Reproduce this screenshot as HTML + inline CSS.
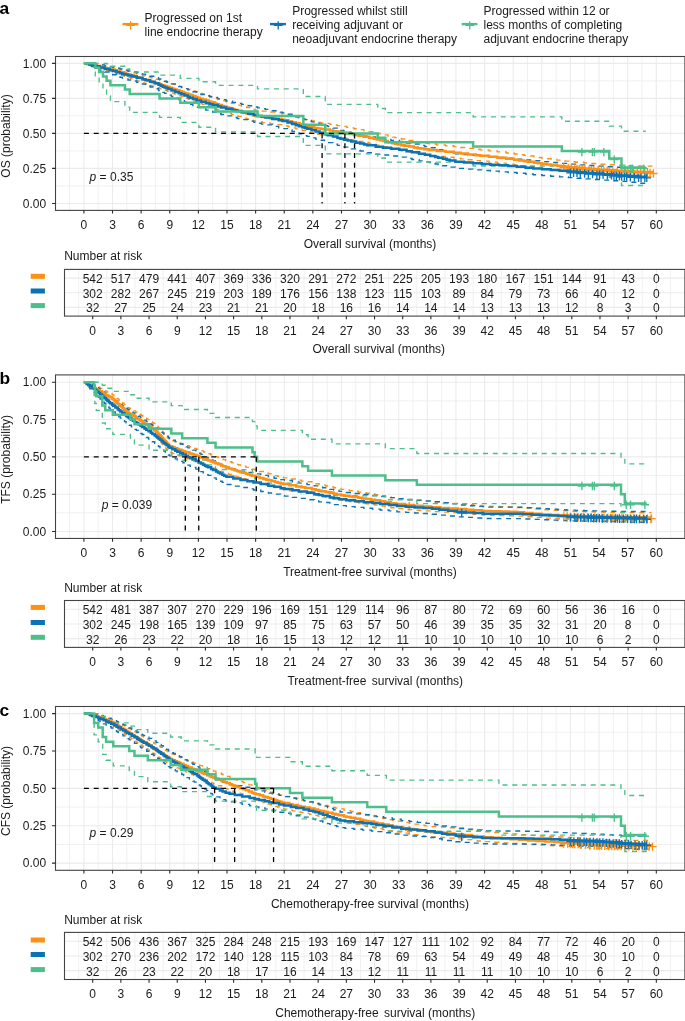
<!DOCTYPE html><html><head><meta charset="utf-8"><style>html,body{margin:0;padding:0;background:#fff;overflow:hidden;}svg{display:block;will-change:transform;}</style></head><body>
<svg width="685" height="1021" viewBox="0 0 685 1021" font-family='"Liberation Sans", sans-serif' fill="#1a1a1a">
<rect width="685" height="1021" fill="#fff"/>
<path d="M122.5 24.1H138.4" stroke="#FF9012" stroke-width="2.4" fill="none"/>
<path d="M130.6 21.2V29.5M126.3 25.4H134.9" stroke="#FF9012" stroke-width="1.3" fill="none"/>
<text x="144.6" y="21.6" font-size="12" text-anchor="start">Progressed on 1st</text>
<text x="144.6" y="35.8" font-size="12" text-anchor="start">line endocrine therapy</text>
<path d="M270 24.1H285.9" stroke="#0B72B5" stroke-width="2.4" fill="none"/>
<path d="M278.2 21.2V29.5M273.9 25.4H282.5" stroke="#0B72B5" stroke-width="1.3" fill="none"/>
<text x="292.2" y="14.9" font-size="12" text-anchor="start">Progressed whilst still</text>
<text x="292.2" y="29.1" font-size="12" text-anchor="start">receiving adjuvant or</text>
<text x="292.2" y="43.3" font-size="12" text-anchor="start">neoadjuvant endocrine therapy</text>
<path d="M461.7 24.1H477.4" stroke="#4DBF8A" stroke-width="2.4" fill="none"/>
<path d="M469.7 21.2V29.5M465.4 25.4H474" stroke="#4DBF8A" stroke-width="1.3" fill="none"/>
<text x="483.5" y="14.9" font-size="12" text-anchor="start">Progressed within 12 or</text>
<text x="483.5" y="29.1" font-size="12" text-anchor="start">less months of completing</text>
<text x="483.5" y="43.3" font-size="12" text-anchor="start">adjuvant endocrine therapy</text>
<text x="-0.5" y="13.7" font-size="17.4" text-anchor="start" font-weight="bold" fill="#000">a</text>
<path d="M69.59 56.5V210.4M98.21 56.5V210.4M126.83 56.5V210.4M155.45 56.5V210.4M184.07 56.5V210.4M212.69 56.5V210.4M241.31 56.5V210.4M269.93 56.5V210.4M298.55 56.5V210.4M327.17 56.5V210.4M355.79 56.5V210.4M384.41 56.5V210.4M413.03 56.5V210.4M441.65 56.5V210.4M470.27 56.5V210.4M498.89 56.5V210.4M527.51 56.5V210.4M556.13 56.5V210.4M584.75 56.5V210.4M613.37 56.5V210.4M641.99 56.5V210.4M670.61 56.5V210.4M55.5 185.94H684.9M55.5 150.91H684.9M55.5 115.89H684.9M55.5 80.86H684.9" stroke="#EEEEEE" stroke-width="0.9" fill="none"/>
<path d="M83.9 56.5V210.4M112.52 56.5V210.4M141.14 56.5V210.4M169.76 56.5V210.4M198.38 56.5V210.4M227 56.5V210.4M255.62 56.5V210.4M284.24 56.5V210.4M312.86 56.5V210.4M341.48 56.5V210.4M370.1 56.5V210.4M398.72 56.5V210.4M427.34 56.5V210.4M455.96 56.5V210.4M484.58 56.5V210.4M513.2 56.5V210.4M541.82 56.5V210.4M570.44 56.5V210.4M599.06 56.5V210.4M627.68 56.5V210.4M656.3 56.5V210.4M55.5 203.45H684.9M55.5 168.42H684.9M55.5 133.4H684.9M55.5 98.38H684.9M55.5 63.35H684.9" stroke="#EBEBEB" stroke-width="1.1" fill="none"/>
<path d="M83.9 63.35H87.14V63.35H89.81V63.5H94.01V64.06H96.68V64.45H100.5V65.05H103.93V65.61H106.61V66.05H110.42V66.7H112.71V67.12H115V67.72H116.91V68.23H118.82V68.74H121.11V69.36H124.16V70.2H126.07V70.73H127.97V71.26H130.65V72.01H134.08V72.98H136.75V73.74H139.04V74.39H142.48V75.37H144.38V75.9H147.82V76.87H150.11V77.52H152.02V78.06H153.92V78.6H156.21V79.25H159.65V80.23H161.56V80.78H164.23V81.54H167.28V82.42H169.57V83.08H171.86V83.84H173.39V84.35H174.91V84.86H176.82V85.51H179.49V86.41H181.78V87.18H183.69V87.83H185.98V88.6H188.27V89.38H190.18V90.03H192.85V90.94H195.52V91.86H197.43V92.51H200.1V93.38H202.77V94.23H205.82V95.19H208.87V96.16H211.16V96.89H214.6V97.99H216.51V98.6H218.8V99.33H221.85V100.3H223.76V100.92H226.43V101.77H228.34V102.34H231.39V103.21H234.82V104.19H237.88V105.07H241.31V106.06H243.6V106.71H246.65V107.59H249.71V108.47H252.76V109.35H255.43V110.13H262.3V111.11H269.93V112.17H275.27V112.92H281.76V113.82H284.81V114.32H288.25V115.2H291.68V116.08H295.88V117.16H299.69V118.14H302.37V118.82H305.42V119.61H308.85V120.5H310.76V120.99H314.2V121.76H317.63V122.34H321.06V122.92H324.12V123.43H329.84V124.4H333.28V124.98H337.09V125.63H341.29V126.34H346.63V127.34H349.68V127.92H353.88V128.71H358.46V129.58H363.8V130.59H369.15V131.6H373.73V132.63H376.78V133.35H380.21V134.16H383.27V134.88H387.84V135.96H392.42V137.05H395.09V137.68H397.77V138.31H401.2V138.99H404.63V139.62H409.21V140.46H413.79V141.3H417.61V141.99H420.28V142.48H424.48V143.25H429.06V143.97H436.69V144.81H445.47V145.77H453.86V146.69H460.73V147.5H467.98V148.36H475.61V149.28H480.19V149.83H488.97V150.89H497.36V151.9H506.14V152.96H514.15V153.95H519.11V154.7H524.08V155.44H527.89V156.01H534V156.93H537.81V157.5H541.63V158.07H546.59V158.72H551.17V159.32H556.89V160.07H561.09V160.62H564.91V161.12H569.49V161.72H575.59V162.29H583.99V163.01H590.09V163.53H598.87V164.26H607.65V164.76H616.42V165.25H625.2V165.7H633.98V165.97H642.75V166.13H651.53V165.95H653.44" stroke="#FF9012" stroke-width="1.35" stroke-dasharray="5 4.8" fill="none"/>
<path d="M83.9 63.35H87.14V64.88H89.81V65.74H94.01V66.98H96.68V67.74H100.5V68.78H103.93V69.69H106.61V70.39H110.42V71.38H112.71V71.99H115V72.86H116.91V73.58H118.82V74.3H121.11V75.15H124.16V76.28H126.07V76.98H127.97V77.67H130.65V78.64H134.08V79.89H136.75V80.85H139.04V81.67H142.48V82.88H144.38V83.53H147.82V84.71H150.11V85.49H152.02V86.15H153.92V86.79H156.21V87.57H159.65V88.74H161.56V89.38H164.23V90.28H167.28V91.31H169.57V92.08H171.86V92.95H173.39V93.54H174.91V94.13H176.82V94.87H179.49V95.9H181.78V96.78H183.69V97.51H185.98V98.38H188.27V99.26H190.18V99.98H192.85V101H195.52V102.02H197.43V102.74H200.1V103.7H202.77V104.63H205.82V105.69H208.87V106.75H211.16V107.54H214.6V108.73H216.51V109.39H218.8V110.18H221.85V111.23H223.76V111.89H226.43V112.81H228.34V113.41H231.39V114.34H234.82V115.39H237.88V116.32H241.31V117.36H243.6V118.06H246.65V118.98H249.71V119.91H252.76V120.83H255.43V121.64H262.3V122.67H269.93V123.78H275.27V124.55H281.76V125.49H284.81V126H288.25V126.91H291.68V127.81H295.88V128.92H299.69V129.93H302.37V130.63H305.42V131.43H308.85V132.33H310.76V132.83H314.2V133.61H317.63V134.2H321.06V134.79H324.12V135.31H329.84V136.29H333.28V136.87H337.09V137.52H341.29V138.24H346.63V139.24H349.68V139.82H353.88V140.61H358.46V141.47H363.8V142.48H369.15V143.48H373.73V144.5H376.78V145.21H380.21V146.01H383.27V146.72H387.84V147.78H392.42V148.84H395.09V149.46H397.77V150.08H401.2V150.74H404.63V151.35H409.21V152.16H413.79V152.98H417.61V153.65H420.28V154.12H424.48V154.87H429.06V155.55H436.69V156.36H445.47V157.28H453.86V158.16H460.73V158.93H467.98V159.75H475.61V160.62H480.19V161.14H488.97V162.14H497.36V163.09H506.14V164.09H514.15V165.02H519.11V165.72H524.08V166.41H527.89V166.94H534V167.79H537.81V168.32H541.63V168.85H546.59V169.45H551.17V170H556.89V170.68H561.09V171.18H564.91V171.64H569.49V172.18H575.59V172.7H583.99V173.37H590.09V173.86H598.87V174.58H607.65V175.1H616.42V175.62H625.2V176.18H633.98V176.59H642.75V176.98H651.53V177.6H653.44" stroke="#FF9012" stroke-width="1.35" stroke-dasharray="5 4.8" fill="none"/>
<path d="M83.9 63.35H89.43V63.35H94.78V63.98H99.74V64.85H104.7V65.79H109.66V66.78H112.71V67.42H116.53V68.29H119.96V69.09H122.25V69.64H124.54V70.19H127.97V70.97H131.79V71.75H136.75V72.77H142.48V74.05H145.53V74.93H150.11V76.24H154.69V77.57H158.5V78.95H160.79V79.83H162.7V80.56H164.61V81.29H166.52V82.03H168.42V82.77H171.48V83.91H175.29V85.3H178.73V86.56H181.4V87.54H184.45V88.67H187.89V89.94H189.79V90.65H192.85V91.79H196.66V93.21H200.86V94.49H205.82V95.76H209.64V96.74H212.69V97.52H217.65V98.8H221.09V99.69H226.05V100.98H232.53V102.41H237.11V103.4H241.69V104.39H248.18V105.79H253.9V107.03H257.72V107.83H261.53V108.61H265.35V109.38H272.22V110.77H278.71V112.09H282.52V112.87H287.48V114.24H292.06V115.69H295.88V116.9H298.93V117.87H302.37V118.96H304.66V119.69H306.95V120.43H311.52V121.89H315.72V123.14H319.54V124.25H324.5V125.68H327.93V126.68H332.89V128.12H337.47V129.45H340.53V130.35H343.96V131.23H347.78V132.16H351.21V133H356.17V134.22H359.99V135.15H364.19V136.18H367.24V136.93H375.63V138.36H382.88V139.32H390.9V140.37H399.29V141.51H406.54V142.95H411.89V144.02H419.14V145.46H424.86V146.61H430.2V147.78H435.16V148.94H438.22V149.66H442.79V150.74H446.61V151.64H449.66V152.36H455.39V153.72H464.16V154.55H472.94V155.29H481.72V156.03H490.49V156.77H499.27V157.52H508.05V158.27H516.83V159.08H525.6V159.98H533.23V160.76H542.01V161.67H550.79V162.49H559.56V163.31H568.34V164.13H577.12V164.84H585.89V165.5H594.67V166.14H603.45V166.73H612.23V167.25H621V167.68H629.78V167.92H638.56V167.95H646.76" stroke="#0B72B5" stroke-width="1.35" stroke-dasharray="5 4.8" fill="none"/>
<path d="M83.9 63.35H89.43V66.46H94.78V68.54H99.74V70.32H104.7V72.03H109.66V73.7H112.71V74.71H116.53V76.06H119.96V77.26H122.25V78.05H124.54V78.84H127.97V79.95H131.79V81.03H136.75V82.42H142.48V84.15H145.53V85.3H150.11V87.01H154.69V88.71H158.5V90.45H160.79V91.53H162.7V92.43H164.61V93.33H166.52V94.23H168.42V95.12H171.48V96.49H175.29V98.15H178.73V99.63H181.4V100.78H184.45V102.09H187.89V103.55H189.79V104.37H192.85V105.67H196.66V107.28H200.86V108.72H205.82V110.15H209.64V111.24H212.69V112.11H217.65V113.52H221.09V114.5H226.05V115.9H232.53V117.47H237.11V118.53H241.69V119.6H248.18V121.11H253.9V122.43H257.72V123.28H261.53V124.1H265.35V124.91H272.22V126.38H278.71V127.77H282.52V128.58H287.48V130.01H292.06V131.51H295.88V132.76H298.93V133.75H302.37V134.87H304.66V135.62H306.95V136.36H311.52V137.84H315.72V139.11H319.54V140.22H324.5V141.66H327.93V142.65H332.89V144.09H337.47V145.41H340.53V146.29H343.96V147.16H347.78V148.07H351.21V148.89H356.17V150.07H359.99V150.98H364.19V151.98H367.24V152.7H375.63V154.08H382.88V154.99H390.9V155.99H399.29V157.08H406.54V158.45H411.89V159.45H419.14V160.81H424.86V161.88H430.2V162.97H435.16V164.04H438.22V164.71H442.79V165.7H446.61V166.52H449.66V167.18H455.39V168.42H464.16V169.17H472.94V169.83H481.72V170.5H490.49V171.17H499.27V171.83H508.05V172.5H516.83V173.22H525.6V174.02H533.23V174.71H542.01V175.5H550.79V176.22H559.56V176.94H568.34V177.65H577.12V178.28H585.89V178.89H594.67V179.51H603.45V180.13H612.23V180.76H621V181.44H629.78V182.25H638.56V183.22H646.76" stroke="#0B72B5" stroke-width="1.35" stroke-dasharray="5 4.8" fill="none"/>
<path d="M83.9 63.35H95.35V63.35H99.16V63.35H102.98V63.35H106.61V63.71H110.42V66.23H124.92V69H129.69V71.97H159.55V75.11H180.25V78.38H198.86V81.79H215.55V85.31H257.53V88.93H303.32V96.48H325.26V104.39H377.73V108.48H385.36V112.66H473.13V116.92H561.85V121.28H609.27V126.18H621.48V131.23H645.81" stroke="#4DBF8A" stroke-width="1.35" stroke-dasharray="5 4.8" fill="none"/>
<path d="M83.9 63.35H95.35V75.92H99.16V83.35H102.98V89.87H106.61V95.91H110.42V101.61H124.92V107.07H129.69V112.33H159.55V117.43H180.25V122.37H198.86V127.2H215.55V131.9H257.53V136.5H303.32V145.39H325.26V153.91H377.73V158.04H385.36V162.07H473.13V166.01H561.85V169.86H609.27V177.21H621.48V185.48H645.81" stroke="#4DBF8A" stroke-width="1.35" stroke-dasharray="5 4.8" fill="none"/>
<path d="M83.9 63.35H87.14V64.05H89.81V64.62H94.01V65.53H96.68V66.1H100.5V66.93H103.93V67.67H106.61V68.24H110.42V69.06H112.71V69.58H115V70.32H116.91V70.93H118.82V71.55H121.11V72.29H124.16V73.27H126.07V73.89H127.97V74.51H130.65V75.37H134.08V76.48H136.75V77.34H139.04V78.08H142.48V79.18H144.38V79.78H147.82V80.85H150.11V81.57H152.02V82.17H153.92V82.77H156.21V83.48H159.65V84.56H161.56V85.16H164.23V85.99H167.28V86.95H169.57V87.67H171.86V88.49H173.39V89.04H174.91V89.59H176.82V90.28H179.49V91.25H181.78V92.08H183.69V92.77H185.98V93.6H188.27V94.43H190.18V95.12H192.85V96.09H195.52V97.06H197.43V97.75H200.1V98.67H202.77V99.56H205.82V100.58H208.87V101.59H211.16V102.36H214.6V103.5H216.51V104.14H218.8V104.9H221.85V105.92H223.76V106.56H226.43V107.45H228.34V108.04H231.39V108.94H234.82V109.96H237.88V110.87H241.31V111.88H243.6V112.56H246.65V113.47H249.71V114.37H252.76V115.28H255.43V116.07H262.3V117.08H269.93V118.17H275.27V118.93H281.76V119.86H284.81V120.36H288.25V121.26H291.68V122.16H295.88V123.25H299.69V124.25H302.37V124.95H305.42V125.75H308.85V126.64H310.76V127.14H314.2V127.92H317.63V128.5H321.06V129.09H324.12V129.61H329.84V130.59H333.28V131.17H337.09V131.82H341.29V132.54H346.63V133.55H349.68V134.12H353.88V134.92H358.46V135.78H363.8V136.79H369.15V137.81H373.73V138.84H376.78V139.56H380.21V140.36H383.27V141.08H387.84V142.16H392.42V143.23H395.09V143.86H397.77V144.49H401.2V145.16H404.63V145.78H409.21V146.61H413.79V147.44H417.61V148.13H420.28V148.61H424.48V149.37H429.06V150.07H436.69V150.9H445.47V151.85H453.86V152.75H460.73V153.54H467.98V154.39H475.61V155.28H480.19V155.82H488.97V156.85H497.36V157.84H506.14V158.87H514.15V159.84H519.11V160.56H524.08V161.28H527.89V161.83H534V162.72H537.81V163.27H541.63V163.83H546.59V164.45H551.17V165.03H556.89V165.75H561.09V166.27H564.91V166.75H569.49V167.32H575.59V167.87H583.99V168.57H590.09V169.08H598.87V169.81H607.65V170.33H616.42V170.85H625.2V171.36H633.98V171.72H642.75V172.02H651.53V172.32H653.44" stroke="#FF9012" stroke-width="2.5" fill="none"/>
<path d="M563.76 163.27V171.67M559.56 167.47H567.96M568.25 163.75V172.15M564.05 167.95H572.45M571.39 164.32V172.72M567.19 168.52H575.59M574.73 164.32V172.72M570.53 168.52H578.93M577.02 164.87V173.27M572.82 169.07H581.22M579.31 164.87V173.27M575.11 169.07H583.51M582.27 164.87V173.27M578.07 169.07H586.47M584.94 165.57V173.97M580.74 169.77H589.14M589.04 165.57V173.97M584.84 169.77H593.24M591.52 166.08V174.48M587.32 170.28H595.72M593.72 166.08V174.48M589.52 170.28H597.92M598.11 166.08V174.48M593.91 170.28H602.31M601.44 166.81V175.21M597.24 171.01H605.64M603.83 166.81V175.21M599.63 171.01H608.03M607.26 166.81V175.21M603.06 171.01H611.46M609.46 167.33V175.73M605.26 171.53H613.66M612.8 167.33V175.73M608.6 171.53H617M617.19 167.85V176.25M612.99 172.05H621.39M621.38 167.85V176.25M617.18 172.05H625.58M625.1 167.85V176.25M620.9 172.05H629.3M627.87 168.36V176.76M623.67 172.56H632.07M630.83 168.36V176.76M626.63 172.56H635.03M633.31 168.36V176.76M629.11 172.56H637.51M637.32 168.72V177.12M633.12 172.92H641.52M640.65 168.72V177.12M636.45 172.92H644.85M644.57 169.02V177.42M640.37 173.22H648.77M647.52 169.02V177.42M643.32 173.22H651.72M650.1 169.02V177.42M645.9 173.22H654.3M653.44 169.32V177.72M649.24 173.52H657.64" stroke="#FF9012" stroke-width="1.35" fill="none"/>
<path d="M83.9 63.35H89.43V64.84H94.78V66.28H99.74V67.61H104.7V68.95H109.66V70.28H112.71V71.11H116.53V72.23H119.96V73.24H122.25V73.91H124.54V74.59H127.97V75.54H131.79V76.47H136.75V77.69H142.48V79.21H145.53V80.22H150.11V81.75H154.69V83.27H158.5V84.84H160.79V85.83H162.7V86.65H164.61V87.47H166.52V88.29H168.42V89.11H171.48V90.38H175.29V91.91H178.73V93.29H181.4V94.36H184.45V95.59H187.89V96.96H189.79V97.73H192.85V98.96H196.66V100.49H200.86V101.85H205.82V103.21H209.64V104.25H212.69V105.09H217.65V106.44H221.09V107.38H226.05V108.73H232.53V110.24H237.11V111.28H241.69V112.31H248.18V113.78H253.9V115.07H257.72V115.9H261.53V116.7H265.35V117.5H272.22V118.94H278.71V120.3H282.52V121.1H287.48V122.51H292.06V123.99H295.88V125.23H298.93V126.22H302.37V127.33H304.66V128.07H306.95V128.82H311.52V130.3H315.72V131.57H319.54V132.68H324.5V134.13H327.93V135.13H332.89V136.58H337.47V137.92H340.53V138.81H343.96V139.69H347.78V140.62H351.21V141.45H356.17V142.66H359.99V143.59H364.19V144.61H367.24V145.35H375.63V146.76H382.88V147.7H390.9V148.74H399.29V149.86H406.54V151.27H411.89V152.31H419.14V153.73H424.86V154.84H430.2V155.98H435.16V157.1H438.22V157.8H442.79V158.84H446.61V159.71H449.66V160.41H455.39V161.71H464.16V162.5H472.94V163.21H481.72V163.92H490.49V164.63H499.27V165.34H508.05V166.05H516.83V166.82H525.6V167.68H533.23V168.42H542.01V169.28H550.79V170.05H559.56V170.83H568.34V171.6H577.12V172.28H585.89V172.92H594.67V173.57H603.45V174.19H612.23V174.79H621V175.39H629.78V176H638.56V176.65H646.76" stroke="#0B72B5" stroke-width="2.5" fill="none"/>
<path d="M570.44 168.6V177M566.24 172.8H574.64M573.59 168.6V177M569.39 172.8H577.79M577.02 168.6V177M572.82 172.8H581.22M580.27 169.28V177.68M576.07 173.48H584.47M584.56 169.28V177.68M580.36 173.48H588.76M588.38 169.92V178.32M584.18 174.12H592.58M592.57 169.92V178.32M588.37 174.12H596.77M596.87 170.57V178.97M592.67 174.77H601.07M599.63 170.57V178.97M595.43 174.77H603.83M603.07 170.57V178.97M598.87 174.77H607.27M607.36 171.19V179.59M603.16 175.39H611.56M611.46 171.19V179.59M607.26 175.39H615.66M613.94 171.79V180.19M609.74 175.99H618.14M616.33 171.79V180.19M612.13 175.99H620.53M619.48 171.79V180.19M615.28 175.99H623.68M621.67 172.39V180.79M617.47 176.59H625.87M624.34 172.39V180.79M620.14 176.59H628.54M626.63 172.39V180.79M622.43 176.59H630.83M630.35 173V181.4M626.15 177.2H634.55M634.36 173V181.4M630.16 177.2H638.56M638.56 173.65V182.05M634.36 177.85H642.76M641.04 173.65V182.05M636.84 177.85H645.24M644.85 173.65V182.05M640.65 177.85H649.05M646.76 173.65V182.05M642.56 177.85H650.96" stroke="#0B72B5" stroke-width="1.35" fill="none"/>
<path d="M83.9 63.35H95.35V67.73H99.16V72.11H102.98V76.48H106.61V80.86H110.42V85.24H124.92V89.62H129.69V94H159.55V98.38H180.25V102.75H198.86V107.13H215.55V111.51H257.53V115.89H303.32V124.64H325.26V133.4H377.73V137.78H385.36V142.16H473.13V146.53H561.85V150.91H609.27V158.42H621.48V167.42H645.81" stroke="#4DBF8A" stroke-width="2.5" fill="none"/>
<path d="M581.89 147.91V156.31M577.69 152.11H586.09M592.38 147.91V156.31M588.18 152.11H596.58M594.29 147.91V156.31M590.09 152.11H598.49M603.83 147.91V156.31M599.63 152.11H608.03M614.32 155.42V163.82M610.12 159.62H618.52M624.82 164.42V172.82M620.62 168.62H629.02M630.54 164.42V172.82M626.34 168.62H634.74M632.45 164.42V172.82M628.25 168.62H636.65M643.9 164.42V172.82M639.7 168.62H648.1" stroke="#4DBF8A" stroke-width="1.35" fill="none"/>
<path d="M83.9 133.4H354.55M322.11 133.4V203.45M344.91 133.4V203.45M354.55 133.4V203.45" stroke="#000" stroke-width="1.3" stroke-dasharray="5 4.8" fill="none"/>
<rect x="55.5" y="56.5" width="629.4" height="153.9" fill="none" stroke="#444444" stroke-width="1.1"/>
<text x="46.2" y="207.65" font-size="12" text-anchor="end">0.00</text>
<text x="46.2" y="172.62" font-size="12" text-anchor="end">0.25</text>
<text x="46.2" y="137.6" font-size="12" text-anchor="end">0.50</text>
<text x="46.2" y="102.58" font-size="12" text-anchor="end">0.75</text>
<text x="46.2" y="67.55" font-size="12" text-anchor="end">1.00</text>
<text x="83.9" y="228.7" font-size="12" text-anchor="middle">0</text>
<text x="112.52" y="228.7" font-size="12" text-anchor="middle">3</text>
<text x="141.14" y="228.7" font-size="12" text-anchor="middle">6</text>
<text x="169.76" y="228.7" font-size="12" text-anchor="middle">9</text>
<text x="198.38" y="228.7" font-size="12" text-anchor="middle">12</text>
<text x="227" y="228.7" font-size="12" text-anchor="middle">15</text>
<text x="255.62" y="228.7" font-size="12" text-anchor="middle">18</text>
<text x="284.24" y="228.7" font-size="12" text-anchor="middle">21</text>
<text x="312.86" y="228.7" font-size="12" text-anchor="middle">24</text>
<text x="341.48" y="228.7" font-size="12" text-anchor="middle">27</text>
<text x="370.1" y="228.7" font-size="12" text-anchor="middle">30</text>
<text x="398.72" y="228.7" font-size="12" text-anchor="middle">33</text>
<text x="427.34" y="228.7" font-size="12" text-anchor="middle">36</text>
<text x="455.96" y="228.7" font-size="12" text-anchor="middle">39</text>
<text x="484.58" y="228.7" font-size="12" text-anchor="middle">42</text>
<text x="513.2" y="228.7" font-size="12" text-anchor="middle">45</text>
<text x="541.82" y="228.7" font-size="12" text-anchor="middle">48</text>
<text x="570.44" y="228.7" font-size="12" text-anchor="middle">51</text>
<text x="599.06" y="228.7" font-size="12" text-anchor="middle">54</text>
<text x="627.68" y="228.7" font-size="12" text-anchor="middle">57</text>
<text x="656.3" y="228.7" font-size="12" text-anchor="middle">60</text>
<path d="M52 203.45H55.5M52 168.42H55.5M52 133.4H55.5M52 98.38H55.5M52 63.35H55.5M83.9 210.4V213.6M112.52 210.4V213.6M141.14 210.4V213.6M169.76 210.4V213.6M198.38 210.4V213.6M227 210.4V213.6M255.62 210.4V213.6M284.24 210.4V213.6M312.86 210.4V213.6M341.48 210.4V213.6M370.1 210.4V213.6M398.72 210.4V213.6M427.34 210.4V213.6M455.96 210.4V213.6M484.58 210.4V213.6M513.2 210.4V213.6M541.82 210.4V213.6M570.44 210.4V213.6M599.06 210.4V213.6M627.68 210.4V213.6M656.3 210.4V213.6" stroke="#2a2a2a" stroke-width="1.1" fill="none"/>
<text x="370" y="247.8" font-size="12" text-anchor="middle">Overall survival (months)</text>
<text transform="translate(10.3 136) rotate(-90)" font-size="12" text-anchor="middle">OS (probability)</text>
<text x="89.6" y="180.8" font-size="12"><tspan font-style="italic">p</tspan> = 0.35</text>
<text x="64.2" y="259.9" font-size="12" text-anchor="start">Number at risk</text>
<path d="M78.61 269.4V316.1M106.79 269.4V316.1M134.97 269.4V316.1M163.16 269.4V316.1M191.34 269.4V316.1M219.52 269.4V316.1M247.7 269.4V316.1M275.88 269.4V316.1M304.06 269.4V316.1M332.25 269.4V316.1M360.43 269.4V316.1M388.61 269.4V316.1M416.79 269.4V316.1M444.97 269.4V316.1M473.16 269.4V316.1M501.34 269.4V316.1M529.52 269.4V316.1M557.7 269.4V316.1M585.88 269.4V316.1M614.07 269.4V316.1M642.25 269.4V316.1M670.43 269.4V316.1" stroke="#EEEEEE" stroke-width="0.9" fill="none"/>
<path d="M92.7 269.4V316.1M120.88 269.4V316.1M149.06 269.4V316.1M177.25 269.4V316.1M205.43 269.4V316.1M233.61 269.4V316.1M261.79 269.4V316.1M289.97 269.4V316.1M318.16 269.4V316.1M346.34 269.4V316.1M374.52 269.4V316.1M402.7 269.4V316.1M430.88 269.4V316.1M459.07 269.4V316.1M487.25 269.4V316.1M515.43 269.4V316.1M543.61 269.4V316.1M571.79 269.4V316.1M599.98 269.4V316.1M628.16 269.4V316.1M656.34 269.4V316.1M64.5 278.16H684.9M64.5 292.75H684.9M64.5 307.34H684.9" stroke="#EBEBEB" stroke-width="1.1" fill="none"/>
<rect x="64.5" y="269.4" width="620.4" height="46.7" fill="none" stroke="#444444" stroke-width="1.1"/>
<text x="92.7" y="283.06" font-size="12" text-anchor="middle">542</text>
<text x="120.88" y="283.06" font-size="12" text-anchor="middle">517</text>
<text x="149.06" y="283.06" font-size="12" text-anchor="middle">479</text>
<text x="177.25" y="283.06" font-size="12" text-anchor="middle">441</text>
<text x="205.43" y="283.06" font-size="12" text-anchor="middle">407</text>
<text x="233.61" y="283.06" font-size="12" text-anchor="middle">369</text>
<text x="261.79" y="283.06" font-size="12" text-anchor="middle">336</text>
<text x="289.97" y="283.06" font-size="12" text-anchor="middle">320</text>
<text x="318.16" y="283.06" font-size="12" text-anchor="middle">291</text>
<text x="346.34" y="283.06" font-size="12" text-anchor="middle">272</text>
<text x="374.52" y="283.06" font-size="12" text-anchor="middle">251</text>
<text x="402.7" y="283.06" font-size="12" text-anchor="middle">225</text>
<text x="430.88" y="283.06" font-size="12" text-anchor="middle">205</text>
<text x="459.07" y="283.06" font-size="12" text-anchor="middle">193</text>
<text x="487.25" y="283.06" font-size="12" text-anchor="middle">180</text>
<text x="515.43" y="283.06" font-size="12" text-anchor="middle">167</text>
<text x="543.61" y="283.06" font-size="12" text-anchor="middle">151</text>
<text x="571.79" y="283.06" font-size="12" text-anchor="middle">144</text>
<text x="599.98" y="283.06" font-size="12" text-anchor="middle">91</text>
<text x="628.16" y="283.06" font-size="12" text-anchor="middle">43</text>
<text x="656.34" y="283.06" font-size="12" text-anchor="middle">0</text>
<text x="92.7" y="297.65" font-size="12" text-anchor="middle">302</text>
<text x="120.88" y="297.65" font-size="12" text-anchor="middle">282</text>
<text x="149.06" y="297.65" font-size="12" text-anchor="middle">267</text>
<text x="177.25" y="297.65" font-size="12" text-anchor="middle">245</text>
<text x="205.43" y="297.65" font-size="12" text-anchor="middle">219</text>
<text x="233.61" y="297.65" font-size="12" text-anchor="middle">203</text>
<text x="261.79" y="297.65" font-size="12" text-anchor="middle">189</text>
<text x="289.97" y="297.65" font-size="12" text-anchor="middle">176</text>
<text x="318.16" y="297.65" font-size="12" text-anchor="middle">156</text>
<text x="346.34" y="297.65" font-size="12" text-anchor="middle">138</text>
<text x="374.52" y="297.65" font-size="12" text-anchor="middle">123</text>
<text x="402.7" y="297.65" font-size="12" text-anchor="middle">115</text>
<text x="430.88" y="297.65" font-size="12" text-anchor="middle">103</text>
<text x="459.07" y="297.65" font-size="12" text-anchor="middle">89</text>
<text x="487.25" y="297.65" font-size="12" text-anchor="middle">84</text>
<text x="515.43" y="297.65" font-size="12" text-anchor="middle">79</text>
<text x="543.61" y="297.65" font-size="12" text-anchor="middle">73</text>
<text x="571.79" y="297.65" font-size="12" text-anchor="middle">66</text>
<text x="599.98" y="297.65" font-size="12" text-anchor="middle">40</text>
<text x="628.16" y="297.65" font-size="12" text-anchor="middle">12</text>
<text x="656.34" y="297.65" font-size="12" text-anchor="middle">0</text>
<text x="92.7" y="312.24" font-size="12" text-anchor="middle">32</text>
<text x="120.88" y="312.24" font-size="12" text-anchor="middle">27</text>
<text x="149.06" y="312.24" font-size="12" text-anchor="middle">25</text>
<text x="177.25" y="312.24" font-size="12" text-anchor="middle">24</text>
<text x="205.43" y="312.24" font-size="12" text-anchor="middle">23</text>
<text x="233.61" y="312.24" font-size="12" text-anchor="middle">21</text>
<text x="261.79" y="312.24" font-size="12" text-anchor="middle">21</text>
<text x="289.97" y="312.24" font-size="12" text-anchor="middle">20</text>
<text x="318.16" y="312.24" font-size="12" text-anchor="middle">18</text>
<text x="346.34" y="312.24" font-size="12" text-anchor="middle">16</text>
<text x="374.52" y="312.24" font-size="12" text-anchor="middle">16</text>
<text x="402.7" y="312.24" font-size="12" text-anchor="middle">14</text>
<text x="430.88" y="312.24" font-size="12" text-anchor="middle">14</text>
<text x="459.07" y="312.24" font-size="12" text-anchor="middle">14</text>
<text x="487.25" y="312.24" font-size="12" text-anchor="middle">13</text>
<text x="515.43" y="312.24" font-size="12" text-anchor="middle">13</text>
<text x="543.61" y="312.24" font-size="12" text-anchor="middle">13</text>
<text x="571.79" y="312.24" font-size="12" text-anchor="middle">12</text>
<text x="599.98" y="312.24" font-size="12" text-anchor="middle">8</text>
<text x="628.16" y="312.24" font-size="12" text-anchor="middle">3</text>
<text x="656.34" y="312.24" font-size="12" text-anchor="middle">0</text>
<rect x="30.7" y="273.8" width="14.2" height="5" fill="#FF9012"/>
<rect x="30.7" y="288.5" width="14.2" height="5" fill="#0B72B5"/>
<rect x="30.7" y="303.1" width="14.2" height="5" fill="#4DBF8A"/>
<text x="92.7" y="334.5" font-size="12" text-anchor="middle">0</text>
<text x="120.88" y="334.5" font-size="12" text-anchor="middle">3</text>
<text x="149.06" y="334.5" font-size="12" text-anchor="middle">6</text>
<text x="177.25" y="334.5" font-size="12" text-anchor="middle">9</text>
<text x="205.43" y="334.5" font-size="12" text-anchor="middle">12</text>
<text x="233.61" y="334.5" font-size="12" text-anchor="middle">15</text>
<text x="261.79" y="334.5" font-size="12" text-anchor="middle">18</text>
<text x="289.97" y="334.5" font-size="12" text-anchor="middle">21</text>
<text x="318.16" y="334.5" font-size="12" text-anchor="middle">24</text>
<text x="346.34" y="334.5" font-size="12" text-anchor="middle">27</text>
<text x="374.52" y="334.5" font-size="12" text-anchor="middle">30</text>
<text x="402.7" y="334.5" font-size="12" text-anchor="middle">33</text>
<text x="430.88" y="334.5" font-size="12" text-anchor="middle">36</text>
<text x="459.07" y="334.5" font-size="12" text-anchor="middle">39</text>
<text x="487.25" y="334.5" font-size="12" text-anchor="middle">42</text>
<text x="515.43" y="334.5" font-size="12" text-anchor="middle">45</text>
<text x="543.61" y="334.5" font-size="12" text-anchor="middle">48</text>
<text x="571.79" y="334.5" font-size="12" text-anchor="middle">51</text>
<text x="599.98" y="334.5" font-size="12" text-anchor="middle">54</text>
<text x="628.16" y="334.5" font-size="12" text-anchor="middle">57</text>
<text x="656.34" y="334.5" font-size="12" text-anchor="middle">60</text>
<path d="M92.7 316.1V319.3M120.88 316.1V319.3M149.06 316.1V319.3M177.25 316.1V319.3M205.43 316.1V319.3M233.61 316.1V319.3M261.79 316.1V319.3M289.97 316.1V319.3M318.16 316.1V319.3M346.34 316.1V319.3M374.52 316.1V319.3M402.7 316.1V319.3M430.88 316.1V319.3M459.07 316.1V319.3M487.25 316.1V319.3M515.43 316.1V319.3M543.61 316.1V319.3M571.79 316.1V319.3M599.98 316.1V319.3M628.16 316.1V319.3M656.34 316.1V319.3" stroke="#2a2a2a" stroke-width="1.1" fill="none"/>
<text x="312.4" y="353" font-size="12" xml:space="preserve">Overall survival (months)</text>
<text x="-0.5" y="383.6" font-size="17.4" text-anchor="start" font-weight="bold" fill="#000">b</text>
<path d="M69.59 374.9V538.45M98.21 374.9V538.45M126.83 374.9V538.45M155.45 374.9V538.45M184.07 374.9V538.45M212.69 374.9V538.45M241.31 374.9V538.45M269.93 374.9V538.45M298.55 374.9V538.45M327.17 374.9V538.45M355.79 374.9V538.45M384.41 374.9V538.45M413.03 374.9V538.45M441.65 374.9V538.45M470.27 374.9V538.45M498.89 374.9V538.45M527.51 374.9V538.45M556.13 374.9V538.45M584.75 374.9V538.45M613.37 374.9V538.45M641.99 374.9V538.45M670.61 374.9V538.45M55.5 512.84H684.9M55.5 475.51H684.9M55.5 438.19H684.9M55.5 400.86H684.9" stroke="#EEEEEE" stroke-width="0.9" fill="none"/>
<path d="M83.9 374.9V538.45M112.52 374.9V538.45M141.14 374.9V538.45M169.76 374.9V538.45M198.38 374.9V538.45M227 374.9V538.45M255.62 374.9V538.45M284.24 374.9V538.45M312.86 374.9V538.45M341.48 374.9V538.45M370.1 374.9V538.45M398.72 374.9V538.45M427.34 374.9V538.45M455.96 374.9V538.45M484.58 374.9V538.45M513.2 374.9V538.45M541.82 374.9V538.45M570.44 374.9V538.45M599.06 374.9V538.45M627.68 374.9V538.45M656.3 374.9V538.45M55.5 531.5H684.9M55.5 494.18H684.9M55.5 456.85H684.9M55.5 419.52H684.9M55.5 382.2H684.9" stroke="#EBEBEB" stroke-width="1.1" fill="none"/>
<path d="M83.9 382.2H86.76V382.53H88.67V383.25H90.96V384.21H92.1V384.72H94.39V385.76H95.92V386.47H97.45V387.2H99.74V388.3H101.64V389.24H102.79V389.8H104.32V390.57H105.84V391.33H107.37V392.1H108.51V392.69H110.04V393.47H111.95V394.45H112.71V394.9H113.86V395.85H115V396.81H115.76V397.45H116.91V398.41H118.05V399.38H119.2V400.35H119.96V401H121.49V402.3H122.63V403.28H124.16V404.59H124.92V405.25H125.69V405.91H126.45V406.57H127.97V407.57H129.12V408.24H130.26V408.91H131.79V409.81H133.7V410.93H135.61V412.05H136.75V412.73H137.9V413.4H139.8V414.53H141.33V415.45H142.86V416.43H144V417.16H145.15V417.9H146.67V418.89H147.82V419.63H148.96V420.37H150.87V421.6H152.4V422.59H153.92V423.59H155.07V424.33H156.21V425.39H156.98V426.2H158.12V427.41H158.88V428.23H159.65V429.04H160.79V430.26H161.94V431.49H162.7V432.3H163.46V433.12H164.23V433.94H164.99V434.76H165.75V435.59H166.52V436.41H167.28V437.23H168.04V438.06H168.81V438.88H169.57V439.71H172.24V440.78H174.53V441.58H177.2V442.51H179.11V443.18H181.4V443.98H182.93V444.52H184.83V445.18H186.36V445.72H189.41V446.79H192.08V447.73H193.99V448.4H196.28V449.2H199.33V450.32H200.86V450.92H203.53V451.96H205.82V452.86H208.11V453.77H210.78V454.82H213.07V455.72H215.36V456.62H218.03V457.68H221.09V458.89H222.99V459.64H225.66V460.7H228.72V461.78H231.77V462.76H234.44V463.62H236.73V464.35H238.64V464.97H240.55V465.58H242.45V466.19H245.89V467.3H248.18V468.04H250.09V468.65H251.99V469.27H255.43V470.38H259.63V471.5H263.44V472.51H266.11V473.22H268.79V473.93H271.46V474.64H274.89V475.56H277.56V476.27H280.61V477.09H283.29V477.8H289.39V478.97H296.26V480.19H301.22V481.08H305.04V481.76H311.91V482.99H315.72V483.79H319.16V484.55H321.83V485.14H325.64V485.98H329.46V486.83H333.66V487.76H336.71V488.43H340.91V489.37H344.34V489.93H349.3V490.68H353.12V491.26H358.46V492.07H362.28V492.65H366.09V493.23H371.05V494.02H374.87V494.72H380.21V495.71H385.17V496.63H390.9V497.69H396.24V498.68H405.02V499.72H413.79V500.53H422.57V501.35H431.35V502.08H440.12V502.71H448.9V503.35H457.68V504.01H466.45V504.74H473.32V505.32H482.1V506.05H490.88V506.45H499.65V506.73H508.43V507H517.21V507.53H524.08V508.18H532.85V509.02H541.63V509.87H550.41V510.32H559.18V510.77H567.96V511.22H576.74V511.53H585.51V511.77H594.29V512.01H603.07V512.22H611.84V512.39H620.62V512.55H629.4V512.67H638.17V512.73H646.95V512.68H651.53" stroke="#FF9012" stroke-width="1.35" stroke-dasharray="5 4.8" fill="none"/>
<path d="M83.9 382.2H86.76V385.17H88.67V386.65H90.96V388.33H92.1V389.15H94.39V390.75H95.92V391.79H97.45V392.83H99.74V394.36H101.64V395.63H102.79V396.38H104.32V397.38H105.84V398.38H107.37V399.37H108.51V400.1H110.04V401.08H111.95V402.31H112.71V402.87H113.86V404.03H115V405.2H115.76V405.97H116.91V407.13H118.05V408.28H119.2V409.43H119.96V410.19H121.49V411.71H122.63V412.85H124.16V414.37H124.92V415.12H125.69V415.88H126.45V416.63H127.97V417.76H129.12V418.52H130.26V419.28H131.79V420.29H133.7V421.55H135.61V422.8H136.75V423.55H137.9V424.31H139.8V425.56H141.33V426.57H142.86V427.65H144V428.46H145.15V429.27H146.67V430.35H147.82V431.15H148.96V431.96H150.87V433.3H152.4V434.37H153.92V435.44H155.07V436.24H156.21V437.38H156.98V438.24H158.12V439.54H158.88V440.4H159.65V441.26H160.79V442.55H161.94V443.84H162.7V444.69H163.46V445.55H164.23V446.4H164.99V447.26H165.75V448.11H166.52V448.96H167.28V449.81H168.04V450.66H168.81V451.51H169.57V452.35H172.24V453.45H174.53V454.26H177.2V455.21H179.11V455.89H181.4V456.7H182.93V457.24H184.83V457.91H186.36V458.45H189.41V459.53H192.08V460.48H193.99V461.15H196.28V461.96H199.33V463.07H200.86V463.67H203.53V464.71H205.82V465.61H208.11V466.5H210.78V467.55H213.07V468.44H215.36V469.33H218.03V470.37H221.09V471.55H222.99V472.29H225.66V473.33H228.72V474.38H231.77V475.33H234.44V476.16H236.73V476.88H238.64V477.47H240.55V478.06H242.45V478.65H245.89V479.72H248.18V480.43H250.09V481.02H251.99V481.61H255.43V482.67H259.63V483.74H263.44V484.7H266.11V485.37H268.79V486.05H271.46V486.72H274.89V487.58H277.56V488.25H280.61V489.01H283.29V489.68H289.39V490.78H296.26V491.92H301.22V492.74H305.04V493.38H311.91V494.51H315.72V495.25H319.16V495.95H321.83V496.49H325.64V497.26H329.46V498.03H333.66V498.88H336.71V499.5H340.91V500.34H344.34V500.85H349.3V501.53H353.12V502.05H358.46V502.78H362.28V503.3H366.09V503.82H371.05V504.52H374.87V505.14H380.21V506.02H385.17V506.82H390.9V507.76H396.24V508.63H405.02V509.53H413.79V510.24H422.57V510.94H431.35V511.57H440.12V512.12H448.9V512.66H457.68V513.22H466.45V513.84H473.32V514.33H482.1V514.95H490.88V515.28H499.65V515.51H508.43V515.73H517.21V516.17H524.08V516.72H532.85V517.42H541.63V518.11H550.41V518.48H559.18V518.84H567.96V519.2H576.74V519.45H585.51V519.66H594.29V519.87H603.07V520.07H611.84V520.25H620.62V520.44H629.4V520.63H638.17V520.82H646.95V521.07H651.53" stroke="#FF9012" stroke-width="1.35" stroke-dasharray="5 4.8" fill="none"/>
<path d="M83.9 382.2H86.76V382.2H88.29V382.73H89.81V383.36H92.1V384.38H93.63V385.14H95.16V386.15H96.3V386.93H97.45V387.72H98.59V388.53H100.12V389.62H101.64V390.73H103.17V391.85H104.32V392.71H105.84V393.85H107.37V395.01H108.89V396.17H110.04V397.06H111.95V398.53H113.09V399.37H115.38V400.96H117.67V402.56H118.82V403.36H120.34V404.44H122.25V405.79H124.54V407.42H126.07V408.51H127.59V409.53H129.12V410.48H131.41V411.92H132.94V412.87H134.84V414.07H136.37V415.03H138.28V416.24H140.57V417.69H142.09V418.66H144.38V420.12H146.29V421.34H148.58V422.81H150.87V424.28H152.4V425.27H154.69V426.75H156.21V427.85H157.36V428.77H158.5V429.69H160.03V430.92H161.56V432.15H162.7V433.08H163.85V434H165.37V435.24H166.52V436.17H168.42V437.73H169.57V438.67H172.24V440.05H175.29V441.56H177.2V442.51H180.25V444.03H182.93V445.36H185.98V446.88H187.89V447.84H190.18V448.99H192.47V450.14H195.9V451.86H198.57V453.22H200.86V454.41H203.15V455.61H205.06V456.6H206.58V457.4H208.11V458.2H211.16V459.81H213.07V460.81H216.12V462.42H218.03V463.43H219.94V464.44H222.23V465.65H224.14V466.66H226.43V467.88H233.3V469.52H240.55V471.06H247.42V472.52H253.52V473.82H260.77V475.37H268.4V477.01H274.13V478.25H280.61V479.65H284.43V480.47H292.44V481.92H298.93V483.09H306.95V484.55H314.2V485.92H318.77V486.93H322.59V487.78H329.84V489.38H333.66V490.23H339V491.42H346.25V492.5H355.03V493.48H363.8V494.46H372.58V495.49H380.21V496.49H388.99V497.65H397V498.71H405.78V499.47H414.56V500.13H423.33V500.8H432.11V501.74H439.36V502.72H448.14V503.9H456.91V505.04H465.69V505.72H474.47V506.4H483.24V507.09H492.02V507.18H514.15V507.21H522.93V507.73H531.71V508.25H540.48V508.76H549.26V509.24H558.04V509.71H566.81V510.19H575.59V510.51H584.37V510.71H593.15V510.91H601.92V511.09H610.7V511.26H619.48V511.4H628.25V511.49H637.03V511.5H645.81V511.37H646.76" stroke="#0B72B5" stroke-width="1.35" stroke-dasharray="5 4.8" fill="none"/>
<path d="M83.9 382.2H86.76V385.97H88.29V387.4H89.81V388.77H92.1V390.73H93.63V392.06H95.16V393.73H96.3V394.96H97.45V396.18H98.59V397.38H100.12V398.97H101.64V400.54H103.17V402.1H104.32V403.26H105.84V404.79H107.37V406.32H108.89V407.83H110.04V408.96H111.95V410.84H113.09V411.89H115.38V413.87H117.67V415.83H118.82V416.8H120.34V418.1H122.25V419.71H124.54V421.64H126.07V422.92H127.59V424.12H129.12V425.22H131.41V426.87H132.94V427.97H134.84V429.34H136.37V430.44H138.28V431.8H140.57V433.43H142.09V434.52H144.38V436.15H146.29V437.49H148.58V439.11H150.87V440.72H152.4V441.79H154.69V443.39H156.21V444.58H157.36V445.56H158.5V446.54H160.03V447.84H161.56V449.14H162.7V450.11H163.85V451.09H165.37V452.38H166.52V453.34H168.42V454.95H169.57V455.91H172.24V457.33H175.29V458.87H177.2V459.83H180.25V461.36H182.93V462.7H185.98V464.22H187.89V465.18H190.18V466.32H192.47V467.45H195.9V469.16H198.57V470.48H200.86V471.65H203.15V472.81H205.06V473.78H206.58V474.55H208.11V475.33H211.16V476.87H213.07V477.83H216.12V479.37H218.03V480.33H219.94V481.28H222.23V482.43H224.14V483.38H226.43V484.52H233.3V486.05H240.55V487.49H247.42V488.84H253.52V490.04H260.77V491.46H268.4V492.96H274.13V494.08H280.61V495.34H284.43V496.08H292.44V497.37H298.93V498.42H306.95V499.71H314.2V500.92H318.77V501.8H322.59V502.54H329.84V503.93H333.66V504.66H339V505.68H346.25V506.61H355.03V507.44H363.8V508.26H372.58V509.13H380.21V509.96H388.99V510.93H397V511.8H405.78V512.42H414.56V512.96H423.33V513.5H432.11V514.26H439.36V515.05H448.14V515.99H456.91V516.89H465.69V517.42H474.47V517.95H483.24V518.47H492.02V518.55H514.15V518.57H522.93V518.96H531.71V519.36H540.48V519.75H549.26V520.11H558.04V520.45H566.81V520.8H575.59V521.03H584.37V521.19H593.15V521.35H601.92V521.52H610.7V521.69H619.48V521.88H628.25V522.08H637.03V522.26H645.81V522.49H646.76" stroke="#0B72B5" stroke-width="1.35" stroke-dasharray="5 4.8" fill="none"/>
<path d="M83.9 382.2H94.11V382.2H94.87V382.2H96.3V382.2H102.31V385.27H105.27V388.23H112.81V391.39H130.36V394.73H134.46V398.22H149.06V401.85H171.29V405.6H182.16V409.46H207.44V413.43H215.55V417.5H252.47V421.67H254.67V425.94H257.15V430.3H302.37V434.75H308.09V439.29H331.94V443.93H385.36V448.66H416.85V453.5H621V458.16H624.82V463.94H646.76" stroke="#4DBF8A" stroke-width="1.35" stroke-dasharray="5 4.8" fill="none"/>
<path d="M83.9 382.2H94.11V395.59H94.87V403.51H96.3V410.47H102.31V422.98H105.27V428.79H112.81V434.4H130.36V439.83H134.46V445.1H149.06V450.24H171.29V455.25H182.16V460.15H207.44V464.94H215.55V469.63H252.47V474.22H254.67V478.71H257.15V483.1H302.37V487.4H308.09V491.6H331.94V495.7H385.36V499.7H416.85V503.59H621V512.5H624.82V519.9H646.76" stroke="#4DBF8A" stroke-width="1.35" stroke-dasharray="5 4.8" fill="none"/>
<path d="M83.9 382.2H86.76V383.86H88.67V384.96H90.96V386.29H92.1V386.95H94.39V388.27H95.92V389.16H97.45V390.04H99.74V391.37H101.64V392.47H102.79V393.13H104.32V394.02H105.84V394.9H107.37V395.78H108.51V396.45H110.04V397.33H111.95V398.43H112.71V398.94H113.86V400.01H115V401.07H115.76V401.78H116.91V402.84H118.05V403.91H119.2V404.97H119.96V405.68H121.49V407.1H122.63V408.16H124.16V409.58H124.92V410.29H125.69V411H126.45V411.71H127.97V412.78H129.12V413.49H130.26V414.21H131.79V415.17H133.7V416.36H135.61V417.55H136.75V418.27H137.9V418.99H139.8V420.18H141.33V421.15H142.86V422.18H144V422.96H145.15V423.74H146.67V424.77H147.82V425.55H148.96V426.32H150.87V427.62H152.4V428.65H153.92V429.69H155.07V430.46H156.21V431.56H156.98V432.4H158.12V433.66H158.88V434.5H159.65V435.34H160.79V436.6H161.94V437.86H162.7V438.7H163.46V439.54H164.23V440.39H164.99V441.23H165.75V442.07H166.52V442.91H167.28V443.75H168.04V444.59H168.81V445.43H169.57V446.27H172.24V447.35H174.53V448.16H177.2V449.11H179.11V449.78H181.4V450.59H182.93V451.13H184.83V451.8H186.36V452.34H189.41V453.42H192.08V454.37H193.99V455.04H196.28V455.85H199.33V456.97H200.86V457.57H203.53V458.62H205.82V459.52H208.11V460.42H210.78V461.47H213.07V462.37H215.36V463.27H218.03V464.32H221.09V465.52H222.99V466.28H225.66V467.33H228.72V468.4H231.77V469.36H234.44V470.21H236.73V470.94H238.64V471.54H240.55V472.15H242.45V472.75H245.89V473.84H248.18V474.57H250.09V475.17H251.99V475.78H255.43V476.87H259.63V477.97H263.44V478.96H266.11V479.65H268.79V480.35H271.46V481.04H274.89V481.93H277.56V482.63H280.61V483.42H283.29V484.11H289.39V485.25H296.26V486.44H301.22V487.3H305.04V487.95H311.91V489.14H315.72V489.91H319.16V490.64H321.83V491.21H325.64V492.02H329.46V492.83H333.66V493.73H336.71V494.38H340.91V495.27H344.34V495.8H349.3V496.52H353.12V497.07H358.46V497.85H362.28V498.4H366.09V498.95H371.05V499.7H374.87V500.37H380.21V501.3H385.17V502.17H390.9V503.17H396.24V504.1H405.02V505.08H413.79V505.84H422.57V506.6H431.35V507.29H440.12V507.88H448.9V508.47H457.68V509.08H466.45V509.76H473.32V510.29H482.1V510.97H490.88V511.35H499.65V511.6H508.43V511.84H517.21V512.33H524.08V512.94H532.85V513.71H541.63V514.48H550.41V514.89H559.18V515.3H567.96V515.71H576.74V515.99H585.51V516.22H594.29V516.45H603.07V516.65H611.84V516.84H620.62V517.02H629.4V517.2H638.17V517.34H646.95V517.49H651.53" stroke="#FF9012" stroke-width="2.5" fill="none"/>
<path d="M409.21 502.08V510.48M405.01 506.28H413.41M563.76 512.3V520.7M559.56 516.5H567.96M567.2 512.3V520.7M563 516.5H571.4M570.82 512.71V521.11M566.62 516.91H575.02M574.35 512.71V521.11M570.15 516.91H578.55M578.07 512.99V521.39M573.87 517.19H582.27M581.41 512.99V521.39M577.21 517.19H585.61M583.51 512.99V521.39M579.31 517.19H587.71M587.52 513.22V521.62M583.32 517.42H591.72M591.33 513.22V521.62M587.13 517.42H595.53M594.67 513.45V521.85M590.47 517.65H598.87M598.01 513.45V521.85M593.81 517.65H602.21M601.73 513.45V521.85M597.53 517.65H605.93M603.93 513.65V522.05M599.73 517.85H608.13M607.84 513.65V522.05M603.64 517.85H612.04M610.51 513.65V522.05M606.31 517.85H614.71M612.8 513.84V522.24M608.6 518.04H617M615.56 513.84V522.24M611.36 518.04H619.76M619.38 513.84V522.24M615.18 518.04H623.58M621.96 514.02V522.42M617.76 518.22H626.16M625.77 514.02V522.42M621.57 518.22H629.97M630.26 514.2V522.6M626.06 518.4H634.46M633.5 514.2V522.6M629.3 518.4H637.7M636.55 514.2V522.6M632.35 518.4H640.75M639.8 514.34V522.74M635.6 518.54H644M643.52 514.34V522.74M639.32 518.54H647.72M647.43 514.49V522.89M643.23 518.69H651.63M650.96 514.49V522.89M646.76 518.69H655.16M651.53 514.49V522.89M647.33 518.69H655.73" stroke="#FF9012" stroke-width="1.35" fill="none"/>
<path d="M83.9 382.2H86.76V384.08H88.29V385.08H89.81V386.09H92.1V387.59H93.63V388.64H95.16V389.99H96.3V391H97.45V392.01H98.59V393.03H100.12V394.38H101.64V395.73H103.17V397.07H104.32V398.09H105.84V399.44H107.37V400.79H108.89V402.14H110.04V403.15H111.95V404.84H113.09V405.79H115.38V407.58H117.67V409.37H118.82V410.27H120.34V411.46H122.25V412.96H124.54V414.75H126.07V415.94H127.59V417.06H129.12V418.09H131.41V419.64H132.94V420.68H134.84V421.97H136.37V423.01H138.28V424.3H140.57V425.86H142.09V426.89H144.38V428.44H146.29V429.74H148.58V431.29H150.87V432.84H152.4V433.88H154.69V435.43H156.21V436.59H157.36V437.54H158.5V438.5H160.03V439.77H161.56V441.04H162.7V442H163.85V442.96H165.37V444.23H166.52V445.18H168.42V446.78H169.57V447.73H172.24V449.14H175.29V450.68H177.2V451.63H180.25V453.17H182.93V454.51H185.98V456.05H187.89V457.01H190.18V458.16H192.47V459.31H195.9V461.04H198.57V462.39H200.86V463.57H203.15V464.76H205.06V465.75H206.58V466.54H208.11V467.33H211.16V468.92H213.07V469.91H216.12V471.49H218.03V472.48H219.94V473.47H222.23V474.66H224.14V475.64H226.43V476.83H233.3V478.43H240.55V479.92H247.42V481.34H253.52V482.6H260.77V484.09H268.4V485.67H274.13V486.86H280.61V488.2H284.43V488.98H292.44V490.36H298.93V491.48H306.95V492.87H314.2V494.17H318.77V495.12H322.59V495.92H329.84V497.43H333.66V498.22H339V499.33H346.25V500.34H355.03V501.25H363.8V502.16H372.58V503.12H380.21V504.04H388.99V505.11H397V506.08H405.78V506.78H414.56V507.39H423.33V507.99H432.11V508.85H439.36V509.74H448.14V510.81H456.91V511.83H465.69V512.45H474.47V513.06H483.24V513.67H492.02V513.75H514.15V513.78H522.93V514.24H531.71V514.7H540.48V515.15H549.26V515.57H558.04V515.99H566.81V516.4H575.59V516.68H584.37V516.86H593.15V517.04H601.92V517.23H610.7V517.41H619.48V517.59H628.25V517.77H637.03V517.9H645.81V518.03H646.76" stroke="#0B72B5" stroke-width="2.5" fill="none"/>
<path d="M461.68 508.83V517.23M457.48 513.03H465.88M570.44 513.4V521.8M566.24 517.6H574.64M574.83 513.4V521.8M570.63 517.6H579.03M577.21 513.68V522.08M573.01 517.88H581.41M580.55 513.68V522.08M576.35 517.88H584.75M584.18 513.68V522.08M579.98 517.88H588.38M588.28 513.86V522.26M584.08 518.06H592.48M590.95 513.86V522.26M586.75 518.06H595.15M593.62 514.04V522.44M589.42 518.24H597.82M596.39 514.04V522.44M592.19 518.24H600.59M599.44 514.04V522.44M595.24 518.24H603.64M602.59 514.23V522.63M598.39 518.43H606.79M606.98 514.23V522.63M602.78 518.43H611.18M611.08 514.41V522.81M606.88 518.61H615.28M615.28 514.41V522.81M611.08 518.61H619.48M617.38 514.41V522.81M613.18 518.61H621.58M619.57 514.59V522.99M615.37 518.79H623.77M623.39 514.59V522.99M619.19 518.79H627.59M627.58 514.59V522.99M623.38 518.79H631.78M630.83 514.77V523.17M626.63 518.97H635.03M634.36 514.77V523.17M630.16 518.97H638.56M636.46 514.77V523.17M632.26 518.97H640.66M639.41 514.9V523.3M635.21 519.1H643.61M643.8 514.9V523.3M639.6 519.1H648M646.76 515.03V523.43M642.56 519.23H650.96" stroke="#0B72B5" stroke-width="1.35" fill="none"/>
<path d="M83.9 382.2H94.11V386.87H94.87V391.53H96.3V396.2H102.31V405.53H105.27V410.19H112.81V414.86H130.36V419.52H134.46V424.19H149.06V428.86H171.29V433.52H182.16V438.19H207.44V442.85H215.55V447.52H252.47V452.18H254.67V456.85H257.15V461.52H302.37V466.18H308.09V470.85H331.94V475.51H385.36V480.18H416.85V484.84H621V494.18H624.82V503.51H646.76" stroke="#4DBF8A" stroke-width="2.5" fill="none"/>
<path d="M581.89 481.84V490.24M577.69 486.04H586.09M592.38 481.84V490.24M588.18 486.04H596.58M594.29 481.84V490.24M590.09 486.04H598.49M614.32 481.84V490.24M610.12 486.04H618.52M626.25 500.51V508.91M622.05 504.71H630.45M630.54 500.51V508.91M626.34 504.71H634.74M644.85 500.51V508.91M640.65 504.71H649.05" stroke="#4DBF8A" stroke-width="1.35" fill="none"/>
<path d="M83.9 456.85H256.29M185.31 456.85V531.5M198.76 456.85V531.5M256.29 456.85V531.5" stroke="#000" stroke-width="1.3" stroke-dasharray="5 4.8" fill="none"/>
<rect x="55.5" y="374.9" width="629.4" height="163.55" fill="none" stroke="#444444" stroke-width="1.1"/>
<text x="46.2" y="535.7" font-size="12" text-anchor="end">0.00</text>
<text x="46.2" y="498.38" font-size="12" text-anchor="end">0.25</text>
<text x="46.2" y="461.05" font-size="12" text-anchor="end">0.50</text>
<text x="46.2" y="423.72" font-size="12" text-anchor="end">0.75</text>
<text x="46.2" y="386.4" font-size="12" text-anchor="end">1.00</text>
<text x="83.9" y="556.75" font-size="12" text-anchor="middle">0</text>
<text x="112.52" y="556.75" font-size="12" text-anchor="middle">3</text>
<text x="141.14" y="556.75" font-size="12" text-anchor="middle">6</text>
<text x="169.76" y="556.75" font-size="12" text-anchor="middle">9</text>
<text x="198.38" y="556.75" font-size="12" text-anchor="middle">12</text>
<text x="227" y="556.75" font-size="12" text-anchor="middle">15</text>
<text x="255.62" y="556.75" font-size="12" text-anchor="middle">18</text>
<text x="284.24" y="556.75" font-size="12" text-anchor="middle">21</text>
<text x="312.86" y="556.75" font-size="12" text-anchor="middle">24</text>
<text x="341.48" y="556.75" font-size="12" text-anchor="middle">27</text>
<text x="370.1" y="556.75" font-size="12" text-anchor="middle">30</text>
<text x="398.72" y="556.75" font-size="12" text-anchor="middle">33</text>
<text x="427.34" y="556.75" font-size="12" text-anchor="middle">36</text>
<text x="455.96" y="556.75" font-size="12" text-anchor="middle">39</text>
<text x="484.58" y="556.75" font-size="12" text-anchor="middle">42</text>
<text x="513.2" y="556.75" font-size="12" text-anchor="middle">45</text>
<text x="541.82" y="556.75" font-size="12" text-anchor="middle">48</text>
<text x="570.44" y="556.75" font-size="12" text-anchor="middle">51</text>
<text x="599.06" y="556.75" font-size="12" text-anchor="middle">54</text>
<text x="627.68" y="556.75" font-size="12" text-anchor="middle">57</text>
<text x="656.3" y="556.75" font-size="12" text-anchor="middle">60</text>
<path d="M52 531.5H55.5M52 494.18H55.5M52 456.85H55.5M52 419.52H55.5M52 382.2H55.5M83.9 538.45V541.65M112.52 538.45V541.65M141.14 538.45V541.65M169.76 538.45V541.65M198.38 538.45V541.65M227 538.45V541.65M255.62 538.45V541.65M284.24 538.45V541.65M312.86 538.45V541.65M341.48 538.45V541.65M370.1 538.45V541.65M398.72 538.45V541.65M427.34 538.45V541.65M455.96 538.45V541.65M484.58 538.45V541.65M513.2 538.45V541.65M541.82 538.45V541.65M570.44 538.45V541.65M599.06 538.45V541.65M627.68 538.45V541.65M656.3 538.45V541.65" stroke="#2a2a2a" stroke-width="1.1" fill="none"/>
<text x="370" y="575.85" font-size="12" text-anchor="middle">Treatment-free survival (months)</text>
<text transform="translate(10.3 459.45) rotate(-90)" font-size="12" text-anchor="middle">TFS (probability)</text>
<text x="101.7" y="508.7" font-size="12"><tspan font-style="italic">p</tspan> = 0.039</text>
<text x="64.2" y="591.5" font-size="12" text-anchor="start">Number at risk</text>
<path d="M78.61 600.5V647.4M106.79 600.5V647.4M134.97 600.5V647.4M163.16 600.5V647.4M191.34 600.5V647.4M219.52 600.5V647.4M247.7 600.5V647.4M275.88 600.5V647.4M304.06 600.5V647.4M332.25 600.5V647.4M360.43 600.5V647.4M388.61 600.5V647.4M416.79 600.5V647.4M444.97 600.5V647.4M473.16 600.5V647.4M501.34 600.5V647.4M529.52 600.5V647.4M557.7 600.5V647.4M585.88 600.5V647.4M614.07 600.5V647.4M642.25 600.5V647.4M670.43 600.5V647.4" stroke="#EEEEEE" stroke-width="0.9" fill="none"/>
<path d="M92.7 600.5V647.4M120.88 600.5V647.4M149.06 600.5V647.4M177.25 600.5V647.4M205.43 600.5V647.4M233.61 600.5V647.4M261.79 600.5V647.4M289.97 600.5V647.4M318.16 600.5V647.4M346.34 600.5V647.4M374.52 600.5V647.4M402.7 600.5V647.4M430.88 600.5V647.4M459.07 600.5V647.4M487.25 600.5V647.4M515.43 600.5V647.4M543.61 600.5V647.4M571.79 600.5V647.4M599.98 600.5V647.4M628.16 600.5V647.4M656.34 600.5V647.4M64.5 609.29H684.9M64.5 623.95H684.9M64.5 638.61H684.9" stroke="#EBEBEB" stroke-width="1.1" fill="none"/>
<rect x="64.5" y="600.5" width="620.4" height="46.9" fill="none" stroke="#444444" stroke-width="1.1"/>
<text x="92.7" y="614.19" font-size="12" text-anchor="middle">542</text>
<text x="120.88" y="614.19" font-size="12" text-anchor="middle">481</text>
<text x="149.06" y="614.19" font-size="12" text-anchor="middle">387</text>
<text x="177.25" y="614.19" font-size="12" text-anchor="middle">307</text>
<text x="205.43" y="614.19" font-size="12" text-anchor="middle">270</text>
<text x="233.61" y="614.19" font-size="12" text-anchor="middle">229</text>
<text x="261.79" y="614.19" font-size="12" text-anchor="middle">196</text>
<text x="289.97" y="614.19" font-size="12" text-anchor="middle">169</text>
<text x="318.16" y="614.19" font-size="12" text-anchor="middle">151</text>
<text x="346.34" y="614.19" font-size="12" text-anchor="middle">129</text>
<text x="374.52" y="614.19" font-size="12" text-anchor="middle">114</text>
<text x="402.7" y="614.19" font-size="12" text-anchor="middle">96</text>
<text x="430.88" y="614.19" font-size="12" text-anchor="middle">87</text>
<text x="459.07" y="614.19" font-size="12" text-anchor="middle">80</text>
<text x="487.25" y="614.19" font-size="12" text-anchor="middle">72</text>
<text x="515.43" y="614.19" font-size="12" text-anchor="middle">69</text>
<text x="543.61" y="614.19" font-size="12" text-anchor="middle">60</text>
<text x="571.79" y="614.19" font-size="12" text-anchor="middle">56</text>
<text x="599.98" y="614.19" font-size="12" text-anchor="middle">36</text>
<text x="628.16" y="614.19" font-size="12" text-anchor="middle">16</text>
<text x="656.34" y="614.19" font-size="12" text-anchor="middle">0</text>
<text x="92.7" y="628.85" font-size="12" text-anchor="middle">302</text>
<text x="120.88" y="628.85" font-size="12" text-anchor="middle">245</text>
<text x="149.06" y="628.85" font-size="12" text-anchor="middle">198</text>
<text x="177.25" y="628.85" font-size="12" text-anchor="middle">165</text>
<text x="205.43" y="628.85" font-size="12" text-anchor="middle">139</text>
<text x="233.61" y="628.85" font-size="12" text-anchor="middle">109</text>
<text x="261.79" y="628.85" font-size="12" text-anchor="middle">97</text>
<text x="289.97" y="628.85" font-size="12" text-anchor="middle">85</text>
<text x="318.16" y="628.85" font-size="12" text-anchor="middle">75</text>
<text x="346.34" y="628.85" font-size="12" text-anchor="middle">63</text>
<text x="374.52" y="628.85" font-size="12" text-anchor="middle">57</text>
<text x="402.7" y="628.85" font-size="12" text-anchor="middle">50</text>
<text x="430.88" y="628.85" font-size="12" text-anchor="middle">46</text>
<text x="459.07" y="628.85" font-size="12" text-anchor="middle">39</text>
<text x="487.25" y="628.85" font-size="12" text-anchor="middle">35</text>
<text x="515.43" y="628.85" font-size="12" text-anchor="middle">35</text>
<text x="543.61" y="628.85" font-size="12" text-anchor="middle">32</text>
<text x="571.79" y="628.85" font-size="12" text-anchor="middle">31</text>
<text x="599.98" y="628.85" font-size="12" text-anchor="middle">20</text>
<text x="628.16" y="628.85" font-size="12" text-anchor="middle">8</text>
<text x="656.34" y="628.85" font-size="12" text-anchor="middle">0</text>
<text x="92.7" y="643.51" font-size="12" text-anchor="middle">32</text>
<text x="120.88" y="643.51" font-size="12" text-anchor="middle">26</text>
<text x="149.06" y="643.51" font-size="12" text-anchor="middle">23</text>
<text x="177.25" y="643.51" font-size="12" text-anchor="middle">22</text>
<text x="205.43" y="643.51" font-size="12" text-anchor="middle">20</text>
<text x="233.61" y="643.51" font-size="12" text-anchor="middle">18</text>
<text x="261.79" y="643.51" font-size="12" text-anchor="middle">16</text>
<text x="289.97" y="643.51" font-size="12" text-anchor="middle">15</text>
<text x="318.16" y="643.51" font-size="12" text-anchor="middle">13</text>
<text x="346.34" y="643.51" font-size="12" text-anchor="middle">12</text>
<text x="374.52" y="643.51" font-size="12" text-anchor="middle">12</text>
<text x="402.7" y="643.51" font-size="12" text-anchor="middle">11</text>
<text x="430.88" y="643.51" font-size="12" text-anchor="middle">10</text>
<text x="459.07" y="643.51" font-size="12" text-anchor="middle">10</text>
<text x="487.25" y="643.51" font-size="12" text-anchor="middle">10</text>
<text x="515.43" y="643.51" font-size="12" text-anchor="middle">10</text>
<text x="543.61" y="643.51" font-size="12" text-anchor="middle">10</text>
<text x="571.79" y="643.51" font-size="12" text-anchor="middle">10</text>
<text x="599.98" y="643.51" font-size="12" text-anchor="middle">6</text>
<text x="628.16" y="643.51" font-size="12" text-anchor="middle">2</text>
<text x="656.34" y="643.51" font-size="12" text-anchor="middle">0</text>
<rect x="30.7" y="604.9" width="14.2" height="5" fill="#FF9012"/>
<rect x="30.7" y="620" width="14.2" height="5" fill="#0B72B5"/>
<rect x="30.7" y="634.8" width="14.2" height="5" fill="#4DBF8A"/>
<text x="92.7" y="665.8" font-size="12" text-anchor="middle">0</text>
<text x="120.88" y="665.8" font-size="12" text-anchor="middle">3</text>
<text x="149.06" y="665.8" font-size="12" text-anchor="middle">6</text>
<text x="177.25" y="665.8" font-size="12" text-anchor="middle">9</text>
<text x="205.43" y="665.8" font-size="12" text-anchor="middle">12</text>
<text x="233.61" y="665.8" font-size="12" text-anchor="middle">15</text>
<text x="261.79" y="665.8" font-size="12" text-anchor="middle">18</text>
<text x="289.97" y="665.8" font-size="12" text-anchor="middle">21</text>
<text x="318.16" y="665.8" font-size="12" text-anchor="middle">24</text>
<text x="346.34" y="665.8" font-size="12" text-anchor="middle">27</text>
<text x="374.52" y="665.8" font-size="12" text-anchor="middle">30</text>
<text x="402.7" y="665.8" font-size="12" text-anchor="middle">33</text>
<text x="430.88" y="665.8" font-size="12" text-anchor="middle">36</text>
<text x="459.07" y="665.8" font-size="12" text-anchor="middle">39</text>
<text x="487.25" y="665.8" font-size="12" text-anchor="middle">42</text>
<text x="515.43" y="665.8" font-size="12" text-anchor="middle">45</text>
<text x="543.61" y="665.8" font-size="12" text-anchor="middle">48</text>
<text x="571.79" y="665.8" font-size="12" text-anchor="middle">51</text>
<text x="599.98" y="665.8" font-size="12" text-anchor="middle">54</text>
<text x="628.16" y="665.8" font-size="12" text-anchor="middle">57</text>
<text x="656.34" y="665.8" font-size="12" text-anchor="middle">60</text>
<path d="M92.7 647.4V650.6M120.88 647.4V650.6M149.06 647.4V650.6M177.25 647.4V650.6M205.43 647.4V650.6M233.61 647.4V650.6M261.79 647.4V650.6M289.97 647.4V650.6M318.16 647.4V650.6M346.34 647.4V650.6M374.52 647.4V650.6M402.7 647.4V650.6M430.88 647.4V650.6M459.07 647.4V650.6M487.25 647.4V650.6M515.43 647.4V650.6M543.61 647.4V650.6M571.79 647.4V650.6M599.98 647.4V650.6M628.16 647.4V650.6M656.34 647.4V650.6" stroke="#2a2a2a" stroke-width="1.1" fill="none"/>
<text x="375.3" y="684.6" font-size="12" text-anchor="middle">Treatment-free<tspan dx="2.0"> survival (months)</tspan></text>
<text x="-0.5" y="715.6" font-size="17.4" text-anchor="start" font-weight="bold" fill="#000">c</text>
<path d="M69.59 706.5V870.3M98.21 706.5V870.3M126.83 706.5V870.3M155.45 706.5V870.3M184.07 706.5V870.3M212.69 706.5V870.3M241.31 706.5V870.3M269.93 706.5V870.3M298.55 706.5V870.3M327.17 706.5V870.3M355.79 706.5V870.3M384.41 706.5V870.3M413.03 706.5V870.3M441.65 706.5V870.3M470.27 706.5V870.3M498.89 706.5V870.3M527.51 706.5V870.3M556.13 706.5V870.3M584.75 706.5V870.3M613.37 706.5V870.3M641.99 706.5V870.3M670.61 706.5V870.3M55.5 844.41H684.9M55.5 807.04H684.9M55.5 769.66H684.9M55.5 732.29H684.9" stroke="#EEEEEE" stroke-width="0.9" fill="none"/>
<path d="M83.9 706.5V870.3M112.52 706.5V870.3M141.14 706.5V870.3M169.76 706.5V870.3M198.38 706.5V870.3M227 706.5V870.3M255.62 706.5V870.3M284.24 706.5V870.3M312.86 706.5V870.3M341.48 706.5V870.3M370.1 706.5V870.3M398.72 706.5V870.3M427.34 706.5V870.3M455.96 706.5V870.3M484.58 706.5V870.3M513.2 706.5V870.3M541.82 706.5V870.3M570.44 706.5V870.3M599.06 706.5V870.3M627.68 706.5V870.3M656.3 706.5V870.3M55.5 863.1H684.9M55.5 825.73H684.9M55.5 788.35H684.9M55.5 750.98H684.9M55.5 713.6H684.9" stroke="#EBEBEB" stroke-width="1.1" fill="none"/>
<path d="M83.9 713.6H90.96V713.61H95.54V714.34H97.45V714.85H98.97V715.29H100.5V715.73H102.79V716.42H105.46V717.25H108.51V718.22H111.18V719.09H113.47V720.03H115.38V721.04H116.91V721.87H118.43V722.7H119.58V723.32H121.49V724.37H122.63V725.01H124.54V726.07H126.07V726.92H127.21V727.56H128.36V728.21H129.5V728.86H131.03V729.72H132.55V730.59H133.7V731.25H134.84V731.9H136.37V732.78H137.9V733.65H139.42V734.54H140.57V735.2H142.09V736.1H143.24V736.78H144.38V737.46H145.91V738.37H147.82V739.52H149.34V740.44H151.25V741.58H152.78V742.51H153.92V743.2H155.07V743.89H156.98V745.05H158.5V745.98H159.65V746.68H160.79V747.37H162.32V748.31H163.85V749.24H165.37V750.17H166.52V750.88H168.04V751.81H169.95V752.95H171.48V753.6H173V754.25H174.91V755.07H176.82V755.88H179.11V756.86H180.64V757.52H183.31V758.66H185.6V759.65H187.5V760.47H189.03V761.13H191.7V762.28H193.61V763.1H196.28V764.26H197.81V764.92H199.72V765.69H202.39V766.74H204.29V767.49H207.35V768.7H209.64V769.6H211.55V770.36H213.45V771.11H215.74V772.02H218.41V773.07H221.47V774.29H222.99V774.89H224.9V775.65H226.81V776.41H229.86V777.57H231.77V778.3H233.3V778.88H234.82V779.46H237.11V780.33H240.17V781.49H243.22V782.66H245.89V783.68H248.94V784.85H251.99V786.02H253.9V786.75H255.81V787.47H259.63V788.69H263.06V789.78H264.97V790.39H268.02V791.37H270.69V792.23H273.36V793.08H275.65V793.82H277.56V794.43H279.47V795.05H281.76V795.78H284.05V796.52H289.39V797.69H292.44V798.34H297.79V799.49H300.84V800.15H304.66V800.97H309.62V802.04H314.58V803.14H318.01V803.96H320.3V804.5H324.12V805.4H327.55V806.22H332.51V807.4H335.57V808.12H339V808.94H343.96V810.07H346.63V810.66H350.45V811.5H355.41V812.59H360.37V813.68H363.04V814.27H365.71V814.86H368.38V815.45H374.11V816.63H377.54V817.32H382.88V818.4H388.61V819.56H392.42V820.33H396.24V821.1H403.11V822.32H409.21V823.31H413.79V824.06H420.28V825.12H424.86V825.87H430.97V826.61H436.69V827.13H445.47V827.94H454.24V828.75H463.02V829.63H471.8V830.54H477.14V831.09H484.01V831.8H492.78V832.54H501.56V833.26H510.34V833.99H519.11V834.66H527.89V835.3H536.67V835.95H545.45V836.52H554.22V836.99H563V837.46H571.78V837.99H580.55V838.88H589.33V839.44H598.11V839.73H606.88V839.92H615.66V840.09H624.44V840.24H633.21V840.32H641.99V840.35H650.77V840.22H652.48" stroke="#FF9012" stroke-width="1.35" stroke-dasharray="5 4.8" fill="none"/>
<path d="M83.9 713.6H90.96V715.79H95.54V717.48H97.45V718.45H98.97V719.21H100.5V719.96H102.79V721.06H105.46V722.31H108.51V723.73H111.18V724.95H113.47V726.24H115.38V727.61H116.91V728.69H118.43V729.77H119.58V730.57H121.49V731.91H122.63V732.7H124.54V734.02H126.07V735.08H127.21V735.86H128.36V736.65H129.5V737.43H131.03V738.47H132.55V739.51H133.7V740.29H134.84V741.06H136.37V742.09H137.9V743.12H139.42V744.15H140.57V744.91H142.09V745.95H143.24V746.73H144.38V747.52H145.91V748.56H147.82V749.86H149.34V750.89H151.25V752.19H152.78V753.22H153.92V753.99H155.07V754.77H156.98V756.05H158.5V757.08H159.65V757.85H160.79V758.61H162.32V759.64H163.85V760.66H165.37V761.67H166.52V762.44H168.04V763.45H169.95V764.68H171.48V765.38H173V766.08H174.91V766.96H176.82V767.83H179.11V768.88H180.64V769.57H183.31V770.79H185.6V771.83H187.5V772.7H189.03V773.39H191.7V774.6H193.61V775.47H196.28V776.67H197.81V777.36H199.72V778.17H202.39V779.26H204.29V780.03H207.35V781.28H209.64V782.21H211.55V782.99H213.45V783.76H215.74V784.69H218.41V785.77H221.47V787.01H222.99V787.62H224.9V788.39H226.81V789.16H229.86V790.34H231.77V791.07H233.3V791.66H234.82V792.24H237.11V793.11H240.17V794.28H243.22V795.45H245.89V796.46H248.94V797.63H251.99V798.79H253.9V799.51H255.81V800.22H259.63V801.42H263.06V802.5H264.97V803.1H268.02V804.05H270.69V804.89H273.36V805.72H275.65V806.44H277.56V807.03H279.47V807.63H281.76V808.34H284.05V809.05H289.39V810.18H292.44V810.81H297.79V811.91H300.84V812.54H304.66V813.33H309.62V814.35H314.58V815.4H318.01V816.18H320.3V816.69H324.12V817.55H327.55V818.32H332.51V819.43H335.57V820.11H339V820.88H343.96V821.94H346.63V822.49H350.45V823.27H355.41V824.28H360.37V825.29H363.04V825.84H365.71V826.38H368.38V826.92H374.11V828.01H377.54V828.65H382.88V829.63H388.61V830.69H392.42V831.39H396.24V832.09H403.11V833.18H409.21V834.08H413.79V834.75H420.28V835.69H424.86V836.36H430.97V837.01H436.69V837.48H445.47V838.19H454.24V838.9H463.02V839.68H471.8V840.47H477.14V840.95H484.01V841.56H492.78V842.2H501.56V842.83H510.34V843.45H519.11V844.03H527.89V844.57H536.67V845.12H545.45V845.6H554.22V845.99H563V846.39H571.78V846.84H580.55V847.59H589.33V848.09H598.11V848.35H606.88V848.54H615.66V848.72H624.44V848.92H633.21V849.07H641.99V849.21H650.77V849.43H652.48" stroke="#FF9012" stroke-width="1.35" stroke-dasharray="5 4.8" fill="none"/>
<path d="M83.9 713.6H89.81V713.6H93.63V713.8H95.92V714.4H98.21V715.06H100.12V715.65H103.55V716.76H106.22V717.65H108.51V718.44H111.18V719.38H114.24V720.66H116.53V721.76H118.05V722.5H120.72V723.81H123.01V724.94H125.69V726.28H127.21V727.05H129.12V728.04H131.79V729.43H134.46V730.83H137.13V732.24H138.66V733.05H140.57V734.07H142.09V734.87H143.62V735.66H146.67V737.24H148.96V738.44H151.63V739.84H153.54V740.85H156.21V742.37H157.74V743.4H159.27V744.44H161.17V745.74H163.46V747.3H164.61V748.09H166.52V749.4H168.42V750.71H169.95V751.74H171.86V752.74H173.39V753.54H175.29V754.54H177.2V755.55H179.49V756.76H181.78V757.98H183.69V758.99H185.21V759.85H187.12V760.94H189.41V762.26H190.94V763.14H192.85V764.24H194.37V765.12H197.04V766.67H198.95V767.86H200.1V768.69H201.24V769.51H202.77V770.62H204.68V772H206.58V773.39H207.73V774.22H208.87V775.06H210.78V776.45H212.31V777.57H213.83V778.69H215.74V779.71H219.94V781.37H222.61V782.43H225.66V783.64H229.48V784.69H234.82V785.79H242.07V787.29H249.71V788.87H254.67V789.9H258.86V790.83H264.97V792.22H269.17V793.17H272.22V793.86H279.09V795.43H284.05V796.56H290.92V798.01H296.26V799.15H303.51V800.68H308.85V801.82H313.05V802.74H315.34V803.52H319.16V804.82H322.97V806.12H327.55V807.69H329.84V808.48H333.66V809.79H336.71V810.84H340.14V812.03H345.11V812.88H353.88V813.83H362.66V814.78H371.44V815.81H376.4V816.63H383.65V817.82H392.42V819.27H401.2V820.59H409.6V821.52H417.23V822.37H426V823.34H434.78V824.74H442.03V825.96H446.99V826.8H455.77V828.29H464.55V829.13H473.32V829.96H482.1V830.79H490.88V831.02H516.06V831.04H524.84V831.2H533.62V831.36H542.39V831.54H551.17V832.08H559.95V832.62H568.72V833.17H577.5V833.51H586.28V833.81H595.05V834.09H603.83V834.58H612.61V835.2H621.38V835.75H630.16V836.06H638.94V836.08H646.76" stroke="#0B72B5" stroke-width="1.35" stroke-dasharray="5 4.8" fill="none"/>
<path d="M83.9 713.6H89.81V716.62H93.63V718.03H95.92V719.46H98.21V720.82H100.12V721.93H103.55V723.87H106.22V725.35H108.51V726.59H111.18V728.02H114.24V729.92H116.53V731.48H118.05V732.52H120.72V734.32H123.01V735.84H125.69V737.61H127.21V738.62H129.12V739.89H131.79V741.66H134.46V743.42H137.13V745.17H138.66V746.16H140.57V747.4H142.09V748.37H143.62V749.32H146.67V751.22H148.96V752.64H151.63V754.28H153.54V755.45H156.21V757.22H157.74V758.4H159.27V759.59H161.17V761.06H163.46V762.82H164.61V763.7H166.52V765.16H168.42V766.62H169.95V767.75H171.86V768.84H173.39V769.72H175.29V770.81H177.2V771.9H179.49V773.21H181.78V774.52H183.69V775.6H185.21V776.52H187.12V777.68H189.41V779.07H190.94V780H192.85V781.16H194.37V782.08H197.04V783.69H198.95V784.92H200.1V785.78H201.24V786.63H202.77V787.76H204.68V789.17H206.58V790.58H207.73V791.42H208.87V792.27H210.78V793.67H212.31V794.79H213.83V795.9H215.74V796.91H219.94V798.56H222.61V799.61H225.66V800.8H229.48V801.83H234.82V802.91H242.07V804.38H249.71V805.92H254.67V806.91H258.86V807.82H264.97V809.15H269.17V810.06H272.22V810.73H279.09V812.22H284.05V813.29H290.92V814.67H296.26V815.74H303.51V817.18H308.85V818.24H313.05V819.1H315.34V819.82H319.16V821.02H322.97V822.22H327.55V823.66H329.84V824.38H333.66V825.57H336.71V826.52H340.14V827.59H345.11V828.36H353.88V829.21H362.66V830.05H371.44V830.96H376.4V831.69H383.65V832.74H392.42V834.01H401.2V835.16H409.6V835.96H417.23V836.69H426V837.53H434.78V838.72H442.03V839.76H446.99V840.47H455.77V841.72H464.55V842.42H473.32V843.1H482.1V843.78H490.88V843.97H516.06V843.98H524.84V844.11H533.62V844.24H542.39V844.39H551.17V844.83H559.95V845.27H568.72V845.7H577.5V845.99H586.28V846.23H595.05V846.49H603.83V846.96H612.61V847.65H621.38V848.43H630.16V849.24H638.94V849.6H646.76" stroke="#0B72B5" stroke-width="1.35" stroke-dasharray="5 4.8" fill="none"/>
<path d="M83.9 713.6H94.11V713.6H98.21V713.6H102.69V716.68H106.13V719.63H113.28V722.8H129.22V726.14H134.46V729.64H147.82V733.27H170.71V737.03H181.21V740.9H207.54V744.87H215.55V748.95H255.14V753.13H256.57V757.4H289.96V761.76H302.37V766.22H331.94V770.77H367.24V775.41H386.32V780.15H498.89V784.99H621V789.66H624.82V795.45H646.76" stroke="#4DBF8A" stroke-width="1.35" stroke-dasharray="5 4.8" fill="none"/>
<path d="M83.9 713.6H94.11V734.94H98.21V741.9H102.69V754.43H106.13V760.26H113.28V765.87H129.22V771.3H134.46V776.59H147.82V781.73H170.71V786.75H181.21V791.66H207.54V796.45H215.55V801.15H255.14V805.74H256.57V810.24H289.96V814.64H302.37V818.94H331.94V823.15H367.24V827.26H386.32V831.26H498.89V835.16H621V844.08H624.82V851.49H646.76" stroke="#4DBF8A" stroke-width="1.35" stroke-dasharray="5 4.8" fill="none"/>
<path d="M83.9 713.6H90.96V714.71H95.54V715.92H97.45V716.66H98.97V717.26H100.5V717.86H102.79V718.76H105.46V719.8H108.51V721H111.18V722.05H113.47V723.17H115.38V724.36H116.91V725.32H118.43V726.28H119.58V727H121.49V728.19H122.63V728.91H124.54V730.1H126.07V731.06H127.21V731.78H128.36V732.5H129.5V733.21H131.03V734.17H132.55V735.13H133.7V735.85H134.84V736.56H136.37V737.52H137.9V738.48H139.42V739.43H140.57V740.15H142.09V741.12H143.24V741.86H144.38V742.59H145.91V743.57H147.82V744.8H149.34V745.78H151.25V747.01H152.78V747.99H153.92V748.72H155.07V749.46H156.98V750.68H158.5V751.67H159.65V752.4H160.79V753.14H162.32V754.12H163.85V755.1H165.37V756.08H166.52V756.81H168.04V757.8H169.95V758.98H171.48V759.66H173V760.34H174.91V761.19H176.82V762.03H179.11V763.05H180.64V763.73H183.31V764.91H185.6V765.93H187.5V766.78H189.03V767.45H191.7V768.64H193.61V769.49H196.28V770.67H197.81V771.35H199.72V772.14H202.39V773.22H204.29V773.99H207.35V775.21H209.64V776.13H211.55V776.9H213.45V777.67H215.74V778.59H218.41V779.66H221.47V780.89H222.99V781.51H224.9V782.27H226.81V783.04H229.86V784.21H231.77V784.94H233.3V785.53H234.82V786.11H237.11V786.99H240.17V788.16H243.22V789.33H245.89V790.35H248.94V791.52H251.99V792.69H253.9V793.42H255.81V794.14H259.63V795.35H263.06V796.44H264.97V797.05H268.02V798.02H270.69V798.87H273.36V799.72H275.65V800.45H277.56V801.05H279.47V801.66H281.76V802.39H284.05V803.11H289.39V804.26H292.44V804.91H297.79V806.04H300.84V806.68H304.66V807.49H309.62V808.54H314.58V809.62H318.01V810.42H320.3V810.95H324.12V811.83H327.55V812.63H332.51V813.78H335.57V814.49H339V815.28H343.96V816.38H346.63V816.95H350.45V817.76H355.41V818.82H360.37V819.87H363.04V820.44H365.71V821.01H368.38V821.58H374.11V822.72H377.54V823.39H382.88V824.42H388.61V825.53H392.42V826.27H396.24V827.01H403.11V828.17H409.21V829.12H413.79V829.83H420.28V830.84H424.86V831.55H430.97V832.25H436.69V832.74H445.47V833.51H454.24V834.27H463.02V835.1H471.8V835.95H477.14V836.47H484.01V837.14H492.78V837.83H501.56V838.51H510.34V839.19H519.11V839.81H527.89V840.41H536.67V841H545.45V841.53H554.22V841.97H563V842.4H571.78V842.89H580.55V843.72H589.33V844.26H598.11V844.53H606.88V844.73H615.66V844.91H624.44V845.09H633.21V845.22H641.99V845.32H650.77V845.42H652.48" stroke="#FF9012" stroke-width="2.5" fill="none"/>
<path d="M409.21 826.12V834.52M405.01 830.32H413.41M563.76 839.4V847.8M559.56 843.6H567.96M567.67 839.4V847.8M563.47 843.6H571.87M570.34 839.4V847.8M566.14 843.6H574.54M572.63 839.89V848.29M568.43 844.09H576.83M574.73 839.89V848.29M570.53 844.09H578.93M578.17 839.89V848.29M573.97 844.09H582.37M581.03 840.72V849.12M576.83 844.92H585.23M585.51 840.72V849.12M581.31 844.92H589.71M589.71 841.26V849.66M585.51 845.46H593.91M594.19 841.26V849.66M589.99 845.46H598.39M596.87 841.26V849.66M592.67 845.46H601.07M599.16 841.53V849.93M594.96 845.73H603.36M601.54 841.53V849.93M597.34 845.73H605.74M604.78 841.53V849.93M600.58 845.73H608.98M608.6 841.73V850.13M604.4 845.93H612.8M611.75 841.73V850.13M607.55 845.93H615.95M614.42 841.73V850.13M610.22 845.93H618.62M617.57 841.91V850.31M613.37 846.11H621.77M621.1 841.91V850.31M616.9 846.11H625.3M624.82 842.09V850.49M620.62 846.29H629.02M628.73 842.09V850.49M624.53 846.29H632.93M632.83 842.09V850.49M628.63 846.29H637.03M636.46 842.22V850.62M632.26 846.42H640.66M638.84 842.22V850.62M634.64 846.42H643.04M642.94 842.32V850.72M638.74 846.52H647.14M645.81 842.32V850.72M641.61 846.52H650.01M649.24 842.32V850.72M645.04 846.52H653.44M652.48 842.42V850.82M648.28 846.62H656.68" stroke="#FF9012" stroke-width="1.35" fill="none"/>
<path d="M83.9 713.6H89.81V714.99H93.63V715.93H95.92V716.95H98.21V717.97H100.12V718.83H103.55V720.36H106.22V721.55H108.51V722.57H111.18V723.77H114.24V725.37H116.53V726.71H118.05V727.6H120.72V729.16H123.01V730.5H125.69V732.07H127.21V732.96H129.12V734.1H131.79V735.69H134.46V737.28H137.13V738.87H138.66V739.78H140.57V740.92H142.09V741.81H143.62V742.68H146.67V744.44H148.96V745.75H151.63V747.29H153.54V748.38H156.21V750.04H157.74V751.15H159.27V752.27H161.17V753.67H163.46V755.34H164.61V756.18H166.52V757.57H168.42V758.97H169.95V760.05H171.86V761.11H173.39V761.95H175.29V763.01H177.2V764.07H179.49V765.33H181.78V766.6H183.69V767.66H185.21V768.55H187.12V769.69H189.41V771.05H190.94V771.96H192.85V773.1H194.37V774H197.04V775.59H198.95V776.81H200.1V777.66H201.24V778.5H202.77V779.63H204.68V781.03H206.58V782.44H207.73V783.28H208.87V784.13H210.78V785.54H212.31V786.66H213.83V787.79H215.74V788.8H219.94V790.47H222.61V791.53H225.66V792.75H229.48V793.79H234.82V794.89H242.07V796.38H249.71V797.95H254.67V798.97H258.86V799.89H264.97V801.26H269.17V802.2H272.22V802.88H279.09V804.42H284.05V805.53H290.92V806.96H296.26V808.06H303.51V809.56H308.85V810.67H313.05V811.56H315.34V812.32H319.16V813.58H322.97V814.84H327.55V816.35H329.84V817.11H333.66V818.37H336.71V819.38H340.14V820.51H345.11V821.33H353.88V822.24H362.66V823.14H371.44V824.12H376.4V824.89H383.65V826.02H392.42V827.4H401.2V828.64H409.6V829.51H417.23V830.3H426V831.21H434.78V832.52H442.03V833.66H446.99V834.44H455.77V835.82H464.55V836.59H473.32V837.36H482.1V838.12H490.88V838.33H516.06V838.34H524.84V838.49H533.62V838.63H542.39V838.8H551.17V839.29H559.95V839.79H568.72V840.28H577.5V840.6H586.28V840.87H595.05V841.15H603.83V841.65H612.61V842.33H621.38V843.07H630.16V843.74H638.94V844H646.76" stroke="#0B72B5" stroke-width="2.5" fill="none"/>
<path d="M461.68 832.82V841.22M457.48 837.02H465.88M570.44 837.28V845.68M566.24 841.48H574.64M573.87 837.28V845.68M569.67 841.48H578.07M577.79 837.6V846M573.59 841.8H581.99M579.98 837.6V846M575.78 841.8H584.18M584.08 837.6V846M579.88 841.8H588.28M586.47 837.87V846.27M582.27 842.07H590.67M590 837.87V846.27M585.8 842.07H594.2M593.43 837.87V846.27M589.23 842.07H597.63M596.96 838.15V846.55M592.76 842.35H601.16M599.82 838.15V846.55M595.62 842.35H604.02M602.88 838.15V846.55M598.68 842.35H607.08M606.41 838.65V847.05M602.21 842.85H610.61M609.55 838.65V847.05M605.35 842.85H613.75M613.18 839.33V847.73M608.98 843.53H617.38M616.33 839.33V847.73M612.13 843.53H620.53M619.48 839.33V847.73M615.28 843.53H623.68M621.67 840.07V848.47M617.47 844.27H625.87M625.2 840.07V848.47M621 844.27H629.4M628.54 840.07V848.47M624.34 844.27H632.74M631.11 840.74V849.14M626.91 844.94H635.31M635.03 840.74V849.14M630.83 844.94H639.23M639.03 841V849.4M634.83 845.2H643.23M642.18 841V849.4M637.98 845.2H646.38M644.76 841V849.4M640.56 845.2H648.96M646.76 841V849.4M642.56 845.2H650.96" stroke="#0B72B5" stroke-width="1.35" fill="none"/>
<path d="M83.9 713.6H94.11V722.94H98.21V727.62H102.69V736.96H106.13V741.63H113.28V746.3H129.22V750.98H134.46V755.65H147.82V760.32H170.71V764.99H181.21V769.66H207.54V774.33H215.55V779.01H255.14V783.68H256.57V788.35H289.96V793.02H302.37V797.69H331.94V802.37H367.24V807.04H386.32V811.71H498.89V816.38H621V825.73H624.82V835.07H646.76" stroke="#4DBF8A" stroke-width="2.5" fill="none"/>
<path d="M581.89 813.38V821.78M577.69 817.58H586.09M592.38 813.38V821.78M588.18 817.58H596.58M594.29 813.38V821.78M590.09 817.58H598.49M614.32 813.38V821.78M610.12 817.58H618.52M626.25 832.07V840.47M622.05 836.27H630.45M630.54 832.07V840.47M626.34 836.27H634.74M644.85 832.07V840.47M640.65 836.27H649.05" stroke="#4DBF8A" stroke-width="1.35" fill="none"/>
<path d="M83.9 788.35H273.56M214.6 788.35V863.1M234.63 788.35V863.1M273.56 788.35V863.1" stroke="#000" stroke-width="1.3" stroke-dasharray="5 4.8" fill="none"/>
<rect x="55.5" y="706.5" width="629.4" height="163.8" fill="none" stroke="#444444" stroke-width="1.1"/>
<text x="46.2" y="867.3" font-size="12" text-anchor="end">0.00</text>
<text x="46.2" y="829.93" font-size="12" text-anchor="end">0.25</text>
<text x="46.2" y="792.55" font-size="12" text-anchor="end">0.50</text>
<text x="46.2" y="755.18" font-size="12" text-anchor="end">0.75</text>
<text x="46.2" y="717.8" font-size="12" text-anchor="end">1.00</text>
<text x="83.9" y="888.6" font-size="12" text-anchor="middle">0</text>
<text x="112.52" y="888.6" font-size="12" text-anchor="middle">3</text>
<text x="141.14" y="888.6" font-size="12" text-anchor="middle">6</text>
<text x="169.76" y="888.6" font-size="12" text-anchor="middle">9</text>
<text x="198.38" y="888.6" font-size="12" text-anchor="middle">12</text>
<text x="227" y="888.6" font-size="12" text-anchor="middle">15</text>
<text x="255.62" y="888.6" font-size="12" text-anchor="middle">18</text>
<text x="284.24" y="888.6" font-size="12" text-anchor="middle">21</text>
<text x="312.86" y="888.6" font-size="12" text-anchor="middle">24</text>
<text x="341.48" y="888.6" font-size="12" text-anchor="middle">27</text>
<text x="370.1" y="888.6" font-size="12" text-anchor="middle">30</text>
<text x="398.72" y="888.6" font-size="12" text-anchor="middle">33</text>
<text x="427.34" y="888.6" font-size="12" text-anchor="middle">36</text>
<text x="455.96" y="888.6" font-size="12" text-anchor="middle">39</text>
<text x="484.58" y="888.6" font-size="12" text-anchor="middle">42</text>
<text x="513.2" y="888.6" font-size="12" text-anchor="middle">45</text>
<text x="541.82" y="888.6" font-size="12" text-anchor="middle">48</text>
<text x="570.44" y="888.6" font-size="12" text-anchor="middle">51</text>
<text x="599.06" y="888.6" font-size="12" text-anchor="middle">54</text>
<text x="627.68" y="888.6" font-size="12" text-anchor="middle">57</text>
<text x="656.3" y="888.6" font-size="12" text-anchor="middle">60</text>
<path d="M52 863.1H55.5M52 825.73H55.5M52 788.35H55.5M52 750.98H55.5M52 713.6H55.5M83.9 870.3V873.5M112.52 870.3V873.5M141.14 870.3V873.5M169.76 870.3V873.5M198.38 870.3V873.5M227 870.3V873.5M255.62 870.3V873.5M284.24 870.3V873.5M312.86 870.3V873.5M341.48 870.3V873.5M370.1 870.3V873.5M398.72 870.3V873.5M427.34 870.3V873.5M455.96 870.3V873.5M484.58 870.3V873.5M513.2 870.3V873.5M541.82 870.3V873.5M570.44 870.3V873.5M599.06 870.3V873.5M627.68 870.3V873.5M656.3 870.3V873.5" stroke="#2a2a2a" stroke-width="1.1" fill="none"/>
<text x="370" y="907.7" font-size="12" text-anchor="middle">Chemotherapy-free survival (months)</text>
<text transform="translate(10.3 790.95) rotate(-90)" font-size="12" text-anchor="middle">CFS (probability)</text>
<text x="89.6" y="837.1" font-size="12"><tspan font-style="italic">p</tspan> = 0.29</text>
<text x="64.2" y="923.8" font-size="12" text-anchor="start">Number at risk</text>
<path d="M78.61 932.4V979.5M106.79 932.4V979.5M134.97 932.4V979.5M163.16 932.4V979.5M191.34 932.4V979.5M219.52 932.4V979.5M247.7 932.4V979.5M275.88 932.4V979.5M304.06 932.4V979.5M332.25 932.4V979.5M360.43 932.4V979.5M388.61 932.4V979.5M416.79 932.4V979.5M444.97 932.4V979.5M473.16 932.4V979.5M501.34 932.4V979.5M529.52 932.4V979.5M557.7 932.4V979.5M585.88 932.4V979.5M614.07 932.4V979.5M642.25 932.4V979.5M670.43 932.4V979.5" stroke="#EEEEEE" stroke-width="0.9" fill="none"/>
<path d="M92.7 932.4V979.5M120.88 932.4V979.5M149.06 932.4V979.5M177.25 932.4V979.5M205.43 932.4V979.5M233.61 932.4V979.5M261.79 932.4V979.5M289.97 932.4V979.5M318.16 932.4V979.5M346.34 932.4V979.5M374.52 932.4V979.5M402.7 932.4V979.5M430.88 932.4V979.5M459.07 932.4V979.5M487.25 932.4V979.5M515.43 932.4V979.5M543.61 932.4V979.5M571.79 932.4V979.5M599.98 932.4V979.5M628.16 932.4V979.5M656.34 932.4V979.5M64.5 941.23H684.9M64.5 955.95H684.9M64.5 970.67H684.9" stroke="#EBEBEB" stroke-width="1.1" fill="none"/>
<rect x="64.5" y="932.4" width="620.4" height="47.1" fill="none" stroke="#444444" stroke-width="1.1"/>
<text x="92.7" y="946.13" font-size="12" text-anchor="middle">542</text>
<text x="120.88" y="946.13" font-size="12" text-anchor="middle">506</text>
<text x="149.06" y="946.13" font-size="12" text-anchor="middle">436</text>
<text x="177.25" y="946.13" font-size="12" text-anchor="middle">367</text>
<text x="205.43" y="946.13" font-size="12" text-anchor="middle">325</text>
<text x="233.61" y="946.13" font-size="12" text-anchor="middle">284</text>
<text x="261.79" y="946.13" font-size="12" text-anchor="middle">248</text>
<text x="289.97" y="946.13" font-size="12" text-anchor="middle">215</text>
<text x="318.16" y="946.13" font-size="12" text-anchor="middle">193</text>
<text x="346.34" y="946.13" font-size="12" text-anchor="middle">169</text>
<text x="374.52" y="946.13" font-size="12" text-anchor="middle">147</text>
<text x="402.7" y="946.13" font-size="12" text-anchor="middle">127</text>
<text x="430.88" y="946.13" font-size="12" text-anchor="middle">111</text>
<text x="459.07" y="946.13" font-size="12" text-anchor="middle">102</text>
<text x="487.25" y="946.13" font-size="12" text-anchor="middle">92</text>
<text x="515.43" y="946.13" font-size="12" text-anchor="middle">84</text>
<text x="543.61" y="946.13" font-size="12" text-anchor="middle">77</text>
<text x="571.79" y="946.13" font-size="12" text-anchor="middle">72</text>
<text x="599.98" y="946.13" font-size="12" text-anchor="middle">46</text>
<text x="628.16" y="946.13" font-size="12" text-anchor="middle">20</text>
<text x="656.34" y="946.13" font-size="12" text-anchor="middle">0</text>
<text x="92.7" y="960.85" font-size="12" text-anchor="middle">302</text>
<text x="120.88" y="960.85" font-size="12" text-anchor="middle">270</text>
<text x="149.06" y="960.85" font-size="12" text-anchor="middle">236</text>
<text x="177.25" y="960.85" font-size="12" text-anchor="middle">202</text>
<text x="205.43" y="960.85" font-size="12" text-anchor="middle">172</text>
<text x="233.61" y="960.85" font-size="12" text-anchor="middle">140</text>
<text x="261.79" y="960.85" font-size="12" text-anchor="middle">128</text>
<text x="289.97" y="960.85" font-size="12" text-anchor="middle">115</text>
<text x="318.16" y="960.85" font-size="12" text-anchor="middle">103</text>
<text x="346.34" y="960.85" font-size="12" text-anchor="middle">84</text>
<text x="374.52" y="960.85" font-size="12" text-anchor="middle">78</text>
<text x="402.7" y="960.85" font-size="12" text-anchor="middle">69</text>
<text x="430.88" y="960.85" font-size="12" text-anchor="middle">63</text>
<text x="459.07" y="960.85" font-size="12" text-anchor="middle">54</text>
<text x="487.25" y="960.85" font-size="12" text-anchor="middle">49</text>
<text x="515.43" y="960.85" font-size="12" text-anchor="middle">49</text>
<text x="543.61" y="960.85" font-size="12" text-anchor="middle">48</text>
<text x="571.79" y="960.85" font-size="12" text-anchor="middle">45</text>
<text x="599.98" y="960.85" font-size="12" text-anchor="middle">30</text>
<text x="628.16" y="960.85" font-size="12" text-anchor="middle">10</text>
<text x="656.34" y="960.85" font-size="12" text-anchor="middle">0</text>
<text x="92.7" y="975.57" font-size="12" text-anchor="middle">32</text>
<text x="120.88" y="975.57" font-size="12" text-anchor="middle">26</text>
<text x="149.06" y="975.57" font-size="12" text-anchor="middle">23</text>
<text x="177.25" y="975.57" font-size="12" text-anchor="middle">22</text>
<text x="205.43" y="975.57" font-size="12" text-anchor="middle">20</text>
<text x="233.61" y="975.57" font-size="12" text-anchor="middle">18</text>
<text x="261.79" y="975.57" font-size="12" text-anchor="middle">17</text>
<text x="289.97" y="975.57" font-size="12" text-anchor="middle">16</text>
<text x="318.16" y="975.57" font-size="12" text-anchor="middle">14</text>
<text x="346.34" y="975.57" font-size="12" text-anchor="middle">13</text>
<text x="374.52" y="975.57" font-size="12" text-anchor="middle">12</text>
<text x="402.7" y="975.57" font-size="12" text-anchor="middle">11</text>
<text x="430.88" y="975.57" font-size="12" text-anchor="middle">11</text>
<text x="459.07" y="975.57" font-size="12" text-anchor="middle">11</text>
<text x="487.25" y="975.57" font-size="12" text-anchor="middle">11</text>
<text x="515.43" y="975.57" font-size="12" text-anchor="middle">10</text>
<text x="543.61" y="975.57" font-size="12" text-anchor="middle">10</text>
<text x="571.79" y="975.57" font-size="12" text-anchor="middle">10</text>
<text x="599.98" y="975.57" font-size="12" text-anchor="middle">6</text>
<text x="628.16" y="975.57" font-size="12" text-anchor="middle">2</text>
<text x="656.34" y="975.57" font-size="12" text-anchor="middle">0</text>
<rect x="30.7" y="937.5" width="14.2" height="5" fill="#FF9012"/>
<rect x="30.7" y="952" width="14.2" height="5" fill="#0B72B5"/>
<rect x="30.7" y="967.1" width="14.2" height="5" fill="#4DBF8A"/>
<text x="92.7" y="997.9" font-size="12" text-anchor="middle">0</text>
<text x="120.88" y="997.9" font-size="12" text-anchor="middle">3</text>
<text x="149.06" y="997.9" font-size="12" text-anchor="middle">6</text>
<text x="177.25" y="997.9" font-size="12" text-anchor="middle">9</text>
<text x="205.43" y="997.9" font-size="12" text-anchor="middle">12</text>
<text x="233.61" y="997.9" font-size="12" text-anchor="middle">15</text>
<text x="261.79" y="997.9" font-size="12" text-anchor="middle">18</text>
<text x="289.97" y="997.9" font-size="12" text-anchor="middle">21</text>
<text x="318.16" y="997.9" font-size="12" text-anchor="middle">24</text>
<text x="346.34" y="997.9" font-size="12" text-anchor="middle">27</text>
<text x="374.52" y="997.9" font-size="12" text-anchor="middle">30</text>
<text x="402.7" y="997.9" font-size="12" text-anchor="middle">33</text>
<text x="430.88" y="997.9" font-size="12" text-anchor="middle">36</text>
<text x="459.07" y="997.9" font-size="12" text-anchor="middle">39</text>
<text x="487.25" y="997.9" font-size="12" text-anchor="middle">42</text>
<text x="515.43" y="997.9" font-size="12" text-anchor="middle">45</text>
<text x="543.61" y="997.9" font-size="12" text-anchor="middle">48</text>
<text x="571.79" y="997.9" font-size="12" text-anchor="middle">51</text>
<text x="599.98" y="997.9" font-size="12" text-anchor="middle">54</text>
<text x="628.16" y="997.9" font-size="12" text-anchor="middle">57</text>
<text x="656.34" y="997.9" font-size="12" text-anchor="middle">60</text>
<path d="M92.7 979.5V982.7M120.88 979.5V982.7M149.06 979.5V982.7M177.25 979.5V982.7M205.43 979.5V982.7M233.61 979.5V982.7M261.79 979.5V982.7M289.97 979.5V982.7M318.16 979.5V982.7M346.34 979.5V982.7M374.52 979.5V982.7M402.7 979.5V982.7M430.88 979.5V982.7M459.07 979.5V982.7M487.25 979.5V982.7M515.43 979.5V982.7M543.61 979.5V982.7M571.79 979.5V982.7M599.98 979.5V982.7M628.16 979.5V982.7M656.34 979.5V982.7" stroke="#2a2a2a" stroke-width="1.1" fill="none"/>
<text x="375.3" y="1016.7" font-size="12" text-anchor="middle">Chemotherapy-free<tspan dx="2.0"> survival (months)</tspan></text>
</svg></body></html>
